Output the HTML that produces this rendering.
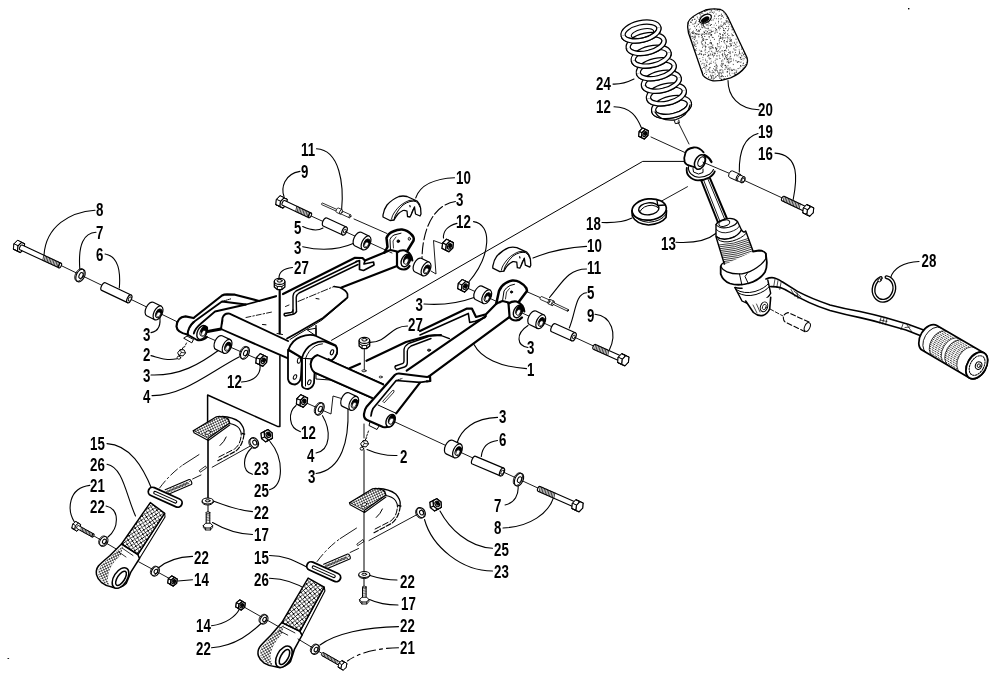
<!DOCTYPE html>
<html><head><meta charset="utf-8"><style>
html,body{margin:0;padding:0;background:#fff;}
svg{display:block}
.lb{font-family:"Liberation Sans",sans-serif;font-weight:bold;font-size:19px;fill:#000;}
</style></head><body>
<svg width="1000" height="677" viewBox="0 0 1000 677" stroke-linecap="round" stroke-linejoin="round" style="will-change:transform">
<rect width="1000" height="677" fill="#fff"/>
<text transform="translate(96,215.6) scale(0.7,1)" class="lb">8</text>
<text transform="translate(96,238.7) scale(0.7,1)" class="lb">7</text>
<text transform="translate(96,260.7) scale(0.7,1)" class="lb">6</text>
<text transform="translate(143,340.5) scale(0.7,1)" class="lb">3</text>
<text transform="translate(143,361) scale(0.7,1)" class="lb">2</text>
<text transform="translate(143,382) scale(0.7,1)" class="lb">3</text>
<text transform="translate(143,403) scale(0.7,1)" class="lb">4</text>
<text transform="translate(227,388) scale(0.7,1)" class="lb">12</text>
<text transform="translate(301,156) scale(0.7,1)" class="lb">11</text>
<text transform="translate(301,178) scale(0.7,1)" class="lb">9</text>
<text transform="translate(294,234) scale(0.7,1)" class="lb">5</text>
<text transform="translate(294,254) scale(0.7,1)" class="lb">3</text>
<text transform="translate(294,274) scale(0.7,1)" class="lb">27</text>
<text transform="translate(456,184) scale(0.7,1)" class="lb">10</text>
<text transform="translate(456,206) scale(0.7,1)" class="lb">3</text>
<text transform="translate(456,228) scale(0.7,1)" class="lb">12</text>
<text transform="translate(415.5,310.5) scale(0.7,1)" class="lb">3</text>
<text transform="translate(408,330.6) scale(0.7,1)" class="lb">27</text>
<text transform="translate(587,252) scale(0.7,1)" class="lb">10</text>
<text transform="translate(587,274) scale(0.7,1)" class="lb">11</text>
<text transform="translate(587,299) scale(0.7,1)" class="lb">5</text>
<text transform="translate(587,322) scale(0.7,1)" class="lb">9</text>
<text transform="translate(527,354) scale(0.7,1)" class="lb">3</text>
<text transform="translate(527,376) scale(0.7,1)" class="lb">1</text>
<text transform="translate(301,439) scale(0.7,1)" class="lb">12</text>
<text transform="translate(307,462) scale(0.7,1)" class="lb">4</text>
<text transform="translate(308,483) scale(0.7,1)" class="lb">3</text>
<text transform="translate(400,463) scale(0.7,1)" class="lb">2</text>
<text transform="translate(499,423.2) scale(0.7,1)" class="lb">3</text>
<text transform="translate(499,445.5) scale(0.7,1)" class="lb">6</text>
<text transform="translate(494,512) scale(0.7,1)" class="lb">7</text>
<text transform="translate(494,534) scale(0.7,1)" class="lb">8</text>
<text transform="translate(494,556) scale(0.7,1)" class="lb">25</text>
<text transform="translate(494,578) scale(0.7,1)" class="lb">23</text>
<text transform="translate(90,450) scale(0.7,1)" class="lb">15</text>
<text transform="translate(90,471) scale(0.7,1)" class="lb">26</text>
<text transform="translate(90,492) scale(0.7,1)" class="lb">21</text>
<text transform="translate(90,513) scale(0.7,1)" class="lb">22</text>
<text transform="translate(254,475) scale(0.7,1)" class="lb">23</text>
<text transform="translate(254,497) scale(0.7,1)" class="lb">25</text>
<text transform="translate(254,518.6) scale(0.7,1)" class="lb">22</text>
<text transform="translate(254,541) scale(0.7,1)" class="lb">17</text>
<text transform="translate(194,564) scale(0.7,1)" class="lb">22</text>
<text transform="translate(194,586) scale(0.7,1)" class="lb">14</text>
<text transform="translate(254,564) scale(0.7,1)" class="lb">15</text>
<text transform="translate(254,586) scale(0.7,1)" class="lb">26</text>
<text transform="translate(196,632) scale(0.7,1)" class="lb">14</text>
<text transform="translate(196,655) scale(0.7,1)" class="lb">22</text>
<text transform="translate(400,588.4) scale(0.7,1)" class="lb">22</text>
<text transform="translate(401,610.4) scale(0.7,1)" class="lb">17</text>
<text transform="translate(400,632.3) scale(0.7,1)" class="lb">22</text>
<text transform="translate(400,654.3) scale(0.7,1)" class="lb">21</text>
<text transform="translate(596,90) scale(0.7,1)" class="lb">24</text>
<text transform="translate(596,113) scale(0.7,1)" class="lb">12</text>
<text transform="translate(758,116) scale(0.7,1)" class="lb">20</text>
<text transform="translate(758,138) scale(0.7,1)" class="lb">19</text>
<text transform="translate(758,160) scale(0.7,1)" class="lb">16</text>
<text transform="translate(586,230.4) scale(0.7,1)" class="lb">18</text>
<text transform="translate(661,250) scale(0.7,1)" class="lb">13</text>
<text transform="translate(921.5,267) scale(0.7,1)" class="lb">28</text>
<path d="M95,210.2 C70,212 46,226 44,255" stroke="#000" stroke-width="1.1" fill="none" />
<path d="M96,232.3 C84,233 78,244 79.8,269" stroke="#000" stroke-width="1.1" fill="none" />
<path d="M105,254 C117,256 121,268 119.3,288" stroke="#000" stroke-width="1.1" fill="none" />
<path d="M151,332.6 C160,331 161,323 159.5,314.5" stroke="#000" stroke-width="1.1" fill="none" />
<path d="M151,355.6 C160,358 166,361 177,358.8" stroke="#000" stroke-width="1.1" fill="none" />
<path d="M151,375 C180,376 200,364 219,350" stroke="#000" stroke-width="1.1" fill="none" />
<path d="M152,395.6 C183,396 210,372 239,357" stroke="#000" stroke-width="1.1" fill="none" />
<path d="M241.5,382 C256,381 261,373 260,365" stroke="#000" stroke-width="1.1" fill="none" />
<path d="M316.5,148.8 C340,150 344,185 341.6,210" stroke="#000" stroke-width="1.1" fill="none" />
<path d="M300,171.4 C284,174 281,188 284,196.5" stroke="#000" stroke-width="1.1" fill="none" />
<path d="M302.7,226.6 C310,230 318,231 323,228" stroke="#000" stroke-width="1.1" fill="none" />
<path d="M302.7,246.7 C325,252 343,248 354.5,243" stroke="#000" stroke-width="1.1" fill="none" />
<path d="M292.5,267.5 C283,268.5 279,272 279,278" stroke="#000" stroke-width="1.1" fill="none" />
<path d="M454.5,177.7 C435,178.5 420,185 415.7,198" stroke="#000" stroke-width="1.1" fill="none" />
<path d="M457,223.4 C447,226 443,232 443.5,238" stroke="#000" stroke-width="1.1" fill="none" />
<path d="M473.5,221.6 C492,224 492,255 468,283" stroke="#000" stroke-width="1.1" fill="none" />
<path d="M424,304 C445,305.5 462,302 474,297.5" stroke="#000" stroke-width="1.1" fill="none" />
<path d="M407.5,326 C390,326 388,342 370,342.4" stroke="#000" stroke-width="1.1" fill="none" />
<path d="M586.5,246.4 C565,247.5 548,252 533,258" stroke="#000" stroke-width="1.1" fill="none" />
<path d="M586.5,269 C568,269 562,283 549.5,297.5" stroke="#000" stroke-width="1.1" fill="none" />
<path d="M586.5,292.8 C575,294 576,312 569.3,328" stroke="#000" stroke-width="1.1" fill="none" />
<path d="M595,314.2 C612,316 617,334 609.5,349.5" stroke="#000" stroke-width="1.1" fill="none" />
<path d="M528,347.5 C517,346 515,334 528,325.5" stroke="#000" stroke-width="1.1" fill="none" />
<path d="M526.5,368.6 C500,367 481,358 474,344.5" stroke="#000" stroke-width="1.1" fill="none" />
<path d="M602,222.5 C615,223 625,221.5 632,218" stroke="#000" stroke-width="1.1" fill="none" />
<path d="M676,242.3 C695,243.5 708,240 716.5,233" stroke="#000" stroke-width="1.1" fill="none" />
<path d="M613,84.1 C622,84.5 628,82 634,79" stroke="#000" stroke-width="1.1" fill="none" />
<path d="M614,106.7 C631,107 637,117 641.5,128" stroke="#000" stroke-width="1.1" fill="none" />
<path d="M759,109.7 C738,109 728,96 728,80.5" stroke="#000" stroke-width="1.1" fill="none" />
<path d="M758,133.5 C742,138 739,155 739.3,172" stroke="#000" stroke-width="1.1" fill="none" />
<path d="M775,153.1 C800,155 797,180 793.2,199.5" stroke="#000" stroke-width="1.1" fill="none" />
<path d="M919,261.5 C903,262 893,269 890.5,278" stroke="#000" stroke-width="1.1" fill="none" />
<path d="M300.5,431.7 C288,428 288,412 296,405.5" stroke="#000" stroke-width="1.1" fill="none" />
<path d="M316,453 C331,450 331,430 322.5,415.7" stroke="#000" stroke-width="1.1" fill="none" />
<path d="M316,473.5 C342,470 349,440 348,409" stroke="#000" stroke-width="1.1" fill="none" />
<path d="M397,455.5 C385,456 375,453 367,449.5" stroke="#000" stroke-width="1.1" fill="none" />
<path d="M497.5,417.4 C474,418 461,430 457,443" stroke="#000" stroke-width="1.1" fill="none" />
<path d="M497.5,440.5 C486,442 482,449 481.3,456.5" stroke="#000" stroke-width="1.1" fill="none" />
<path d="M505,505 C515,503 519,494 518,485.5" stroke="#000" stroke-width="1.1" fill="none" />
<path d="M503,528 C530,527 549,513 553.7,497" stroke="#000" stroke-width="1.1" fill="none" />
<path d="M492.5,548.3 C468,547 449,528 440,511" stroke="#000" stroke-width="1.1" fill="none" />
<path d="M492.5,571 C462,571 432,547 424.5,519.5" stroke="#000" stroke-width="1.1" fill="none" />
<path d="M397,580 C385,580 378,578 370,575.5" stroke="#000" stroke-width="1.1" fill="none" />
<path d="M398,605 C385,605 377,603 369.5,599.5" stroke="#000" stroke-width="1.1" fill="none" />
<path d="M398.5,626.6 C365,627 335,634 320,645" stroke="#000" stroke-width="1.1" fill="none" />
<path d="M211.5,625.7 C226,624 236,616 239.5,609" stroke="#000" stroke-width="1.1" fill="none" />
<path d="M211.5,647.7 C236,646 252,632 261,623.5" stroke="#000" stroke-width="1.1" fill="none" />
<path d="M192.5,556.4 C177,557 165,562 157.5,568.5" stroke="#000" stroke-width="1.1" fill="none" />
<path d="M192.5,579.7 L178,581" stroke="#000" stroke-width="1.1" fill="none" />
<path d="M269.5,555.5 C288,555.5 298,563 309,568" stroke="#000" stroke-width="1.1" fill="none" />
<path d="M269.5,578.3 C288,579 300,585 309,591" stroke="#000" stroke-width="1.1" fill="none" />
<path d="M252.5,511.6 C236,510 224,505 213.5,501" stroke="#000" stroke-width="1.1" fill="none" />
<path d="M252.5,534.5 C236,534 222,528 212.5,522.5" stroke="#000" stroke-width="1.1" fill="none" />
<path d="M252.5,474.3 C241,471 243,456 251.5,448" stroke="#000" stroke-width="1.1" fill="none" />
<path d="M269.5,489.7 C284,487 284,458 270,441.5" stroke="#000" stroke-width="1.1" fill="none" />
<path d="M107,443.6 C130,445 143,467 152,489.5" stroke="#000" stroke-width="1.1" fill="none" />
<path d="M107,464.2 C123,467 126,495 135.5,516" stroke="#000" stroke-width="1.1" fill="none" />
<path d="M89.8,485.4 C68,488 67,510 74.4,522" stroke="#000" stroke-width="1.1" fill="none" />
<path d="M106,506 C120,509 119,528 108,537" stroke="#000" stroke-width="1.1" fill="none" />
<path d="M455.5,201.5 C432,205 422,232 422,260" stroke="#000" stroke-width="1.1" fill="none" stroke-dasharray="11 3"/>
<path d="M398.5,647.7 C378,648 358,653 347.5,661" stroke="#000" stroke-width="1.1" fill="none" stroke-dasharray="12 4 3 4"/>
<line x1="60" y1="265" x2="190" y2="328" stroke="#000" stroke-width="0.9"/>
<path d="M16.50,250.59 L20.05,246.99 L20.51,241.95 L17.41,240.52 L13.86,244.12 L13.41,249.16 Z" stroke="#000" stroke-width="1.1" fill="#fff" />
<path d="M16.50,250.59 L20.05,246.99 L24.14,248.88 L20.59,252.48 Z" stroke="#000" stroke-width="0.8800000000000001" fill="#fff" />
<path d="M20.05,246.99 L20.51,241.95 L24.59,243.84 L24.14,248.88 Z" stroke="#000" stroke-width="0.8800000000000001" fill="#fff" />
<path d="M20.51,241.95 L17.41,240.52 L21.50,242.41 L24.59,243.84 Z" stroke="#000" stroke-width="0.8800000000000001" fill="#fff" />
<path d="M17.41,240.52 L13.86,244.12 L17.95,246.01 L21.50,242.41 Z" stroke="#000" stroke-width="0.8800000000000001" fill="#fff" />
<path d="M13.86,244.12 L13.41,249.16 L17.49,251.05 L17.95,246.01 Z" stroke="#000" stroke-width="0.8800000000000001" fill="#fff" />
<path d="M13.41,249.16 L16.50,250.59 L20.59,252.48 L17.49,251.05 Z" stroke="#000" stroke-width="0.8800000000000001" fill="#fff" />
<path d="M20.59,252.48 L24.14,248.88 L24.59,243.84 L21.50,242.41 L17.95,246.01 L17.49,251.05 Z" stroke="#000" stroke-width="1.1" fill="#fff" />
<path d="M58.91,267.86 L19.95,249.81 A1.30,2.60 24.9 0 1 22.13,245.09 L61.09,263.14" stroke="#000" stroke-width="1.1" fill="#fff" />
<ellipse cx="60" cy="265.5" rx="1.3" ry="2.6" transform="rotate(24.9 60 265.5)" stroke="#000" stroke-width="1.1" fill="#fff"/>
<line x1="58.73" y1="267.77" x2="59.82" y2="262.55" stroke="#000" stroke-width="0.75"/>
<line x1="57.27" y1="267.1" x2="58.37" y2="261.88" stroke="#000" stroke-width="0.75"/>
<line x1="55.82" y1="266.43" x2="56.92" y2="261.21" stroke="#000" stroke-width="0.75"/>
<line x1="54.37" y1="265.76" x2="55.47" y2="260.53" stroke="#000" stroke-width="0.75"/>
<line x1="52.92" y1="265.08" x2="54.02" y2="259.86" stroke="#000" stroke-width="0.75"/>
<line x1="51.47" y1="264.41" x2="52.56" y2="259.19" stroke="#000" stroke-width="0.75"/>
<line x1="50.02" y1="263.74" x2="51.11" y2="258.52" stroke="#000" stroke-width="0.75"/>
<line x1="48.56" y1="263.07" x2="49.66" y2="257.84" stroke="#000" stroke-width="0.75"/>
<line x1="47.11" y1="262.39" x2="48.21" y2="257.17" stroke="#000" stroke-width="0.75"/>
<line x1="45.66" y1="261.72" x2="46.76" y2="256.5" stroke="#000" stroke-width="0.75"/>
<line x1="44.21" y1="261.05" x2="45.31" y2="255.82" stroke="#000" stroke-width="0.75"/>
<line x1="42.76" y1="260.37" x2="43.85" y2="255.15" stroke="#000" stroke-width="0.75"/>
<ellipse cx="80.5" cy="275.5" rx="4.08" ry="6.8" transform="rotate(26 80.5 275.5)" stroke="#000" stroke-width="1.1" fill="#fff"/>
<ellipse cx="81.0" cy="275.5" rx="1.84" ry="3.06" transform="rotate(26 81.0 275.5)" stroke="#000" stroke-width="0.9900000000000001" fill="#fff"/>
<ellipse cx="79.42" cy="274.97" rx="4.08" ry="6.8" transform="rotate(26 79.42 274.97)" stroke="#000" stroke-width="0.77" fill="none"/>
<path d="M127.50,302.60 L101.70,290.40 A2.10,4.20 25.3 0 1 105.30,282.80 L131.10,295.00" stroke="#000" stroke-width="1.2" fill="#fff" />
<ellipse cx="129.3" cy="298.8" rx="2.1" ry="4.2" transform="rotate(25.3 129.3 298.8)" stroke="#000" stroke-width="1.2" fill="#fff"/>
<ellipse cx="129.8" cy="299" rx="1.32" ry="2.2" transform="rotate(26 129.8 299)" stroke="#000" stroke-width="0.9" fill="#fff"/>
<path d="M154.76,319.71 L146.67,315.77 A4.12,7.50 26.0 0 1 153.24,302.29 L161.33,306.23" stroke="#000" stroke-width="1.2" fill="#fff" />
<ellipse cx="158.04" cy="312.97" rx="4.12" ry="7.5" transform="rotate(26.0 158.04 312.97)" stroke="#000" stroke-width="1.2" fill="#fff"/>
<ellipse cx="158.76" cy="313.32" rx="2.79" ry="4.65" transform="rotate(26 158.76 313.32)" stroke="#000" stroke-width="0.9" fill="none"/>
<ellipse cx="159.12" cy="312.5" rx="1.99" ry="2.85" transform="rotate(26 159.12 312.5)" stroke="#000" stroke-width="1.6" fill="#000"/>
<ellipse cx="158.58" cy="314.44" rx="1.79" ry="2.5500000000000003" transform="rotate(26 158.58 314.44)" stroke="#000" stroke-width="0.5" fill="#fff"/>
<line x1="205" y1="336" x2="262" y2="361" stroke="#000" stroke-width="0.9"/>
<path d="M223.91,353.20 L215.75,349.40 A4.12,7.50 25.0 0 1 222.09,335.80 L230.25,339.60" stroke="#000" stroke-width="1.2" fill="#fff" />
<ellipse cx="227.08" cy="346.4" rx="4.12" ry="7.5" transform="rotate(25.0 227.08 346.4)" stroke="#000" stroke-width="1.2" fill="#fff"/>
<ellipse cx="227.8" cy="346.74" rx="2.79" ry="4.65" transform="rotate(25 227.8 346.74)" stroke="#000" stroke-width="0.9" fill="none"/>
<ellipse cx="228.17" cy="345.91" rx="1.99" ry="2.85" transform="rotate(25 228.17 345.91)" stroke="#000" stroke-width="1.6" fill="#000"/>
<ellipse cx="227.62" cy="347.86" rx="1.79" ry="2.5500000000000003" transform="rotate(25 227.62 347.86)" stroke="#000" stroke-width="0.5" fill="#fff"/>
<ellipse cx="245" cy="353" rx="3.9" ry="6.5" transform="rotate(25 245 353)" stroke="#000" stroke-width="1.1" fill="#fff"/>
<ellipse cx="245.5" cy="353" rx="1.76" ry="2.9250000000000003" transform="rotate(25 245.5 353)" stroke="#000" stroke-width="0.9900000000000001" fill="#fff"/>
<ellipse cx="243.91" cy="352.49" rx="3.9" ry="6.5" transform="rotate(25 243.91 352.49)" stroke="#000" stroke-width="0.77" fill="none"/>
<path d="M259.19,364.47 L262.95,360.67 L263.44,355.36 L260.18,353.84 L256.43,357.64 L255.94,362.95 Z" stroke="#000" stroke-width="1.3" fill="#fff" />
<path d="M259.19,364.47 L262.95,360.67 L266.57,362.36 L262.82,366.16 Z" stroke="#000" stroke-width="1.04" fill="#fff" />
<path d="M262.95,360.67 L263.44,355.36 L267.06,357.05 L266.57,362.36 Z" stroke="#000" stroke-width="1.04" fill="#fff" />
<path d="M263.44,355.36 L260.18,353.84 L263.81,355.53 L267.06,357.05 Z" stroke="#000" stroke-width="1.04" fill="#fff" />
<path d="M260.18,353.84 L256.43,357.64 L260.05,359.33 L263.81,355.53 Z" stroke="#000" stroke-width="1.04" fill="#fff" />
<path d="M256.43,357.64 L255.94,362.95 L259.56,364.64 L260.05,359.33 Z" stroke="#000" stroke-width="1.04" fill="#fff" />
<path d="M255.94,362.95 L259.19,364.47 L262.82,366.16 L259.56,364.64 Z" stroke="#000" stroke-width="1.04" fill="#fff" />
<path d="M262.82,366.16 L266.57,362.36 L267.06,357.05 L263.81,355.53 L260.05,359.33 L259.56,364.64 Z" stroke="#000" stroke-width="1.3" fill="#fff" />
<ellipse cx="263.31" cy="360.85" rx="1.8" ry="2.9" transform="rotate(25 263.31 360.85)" stroke="#000" stroke-width="1.1700000000000002" fill="#fff"/>
<ellipse cx="263.71" cy="360.35" rx="1.01" ry="1.624" transform="rotate(25 263.71 360.35)" stroke="#000" stroke-width="1.2" fill="#000"/>
<line x1="310" y1="215.5" x2="392" y2="253" stroke="#000" stroke-width="0.9"/>
<path d="M278.99,206.09 L282.55,202.49 L283.02,197.45 L279.93,196.01 L276.37,199.61 L275.90,204.64 Z" stroke="#000" stroke-width="1.1" fill="#fff" />
<path d="M278.99,206.09 L282.55,202.49 L286.63,204.39 L283.07,207.99 Z" stroke="#000" stroke-width="0.8800000000000001" fill="#fff" />
<path d="M282.55,202.49 L283.02,197.45 L287.10,199.36 L286.63,204.39 Z" stroke="#000" stroke-width="0.8800000000000001" fill="#fff" />
<path d="M283.02,197.45 L279.93,196.01 L284.01,197.91 L287.10,199.36 Z" stroke="#000" stroke-width="0.8800000000000001" fill="#fff" />
<path d="M279.93,196.01 L276.37,199.61 L280.45,201.51 L284.01,197.91 Z" stroke="#000" stroke-width="0.8800000000000001" fill="#fff" />
<path d="M276.37,199.61 L275.90,204.64 L279.98,206.55 L280.45,201.51 Z" stroke="#000" stroke-width="0.8800000000000001" fill="#fff" />
<path d="M275.90,204.64 L278.99,206.09 L283.07,207.99 L279.98,206.55 Z" stroke="#000" stroke-width="0.8800000000000001" fill="#fff" />
<path d="M283.07,207.99 L286.63,204.39 L287.10,199.36 L284.01,197.91 L280.45,201.51 L279.98,206.55 Z" stroke="#000" stroke-width="1.1" fill="#fff" />
<path d="M308.90,217.66 L282.44,205.31 A1.30,2.60 25.0 0 1 284.64,200.60 L311.10,212.94" stroke="#000" stroke-width="1.1" fill="#fff" />
<ellipse cx="310" cy="215.3" rx="1.3" ry="2.6" transform="rotate(25.0 310 215.3)" stroke="#000" stroke-width="1.1" fill="#fff"/>
<line x1="308.72" y1="217.57" x2="309.83" y2="212.35" stroke="#000" stroke-width="0.75"/>
<line x1="307.27" y1="216.89" x2="308.38" y2="211.68" stroke="#000" stroke-width="0.75"/>
<line x1="305.82" y1="216.22" x2="306.93" y2="211.0" stroke="#000" stroke-width="0.75"/>
<line x1="304.37" y1="215.54" x2="305.48" y2="210.32" stroke="#000" stroke-width="0.75"/>
<line x1="302.92" y1="214.87" x2="304.03" y2="209.65" stroke="#000" stroke-width="0.75"/>
<line x1="301.47" y1="214.19" x2="302.58" y2="208.97" stroke="#000" stroke-width="0.75"/>
<line x1="300.02" y1="213.51" x2="301.13" y2="208.29" stroke="#000" stroke-width="0.75"/>
<line x1="298.57" y1="212.84" x2="299.68" y2="207.62" stroke="#000" stroke-width="0.75"/>
<line x1="297.12" y1="212.16" x2="298.23" y2="206.94" stroke="#000" stroke-width="0.75"/>
<line x1="295.67" y1="211.48" x2="296.78" y2="206.26" stroke="#000" stroke-width="0.75"/>
<path d="M342.66,235.00 L323.16,226.00 A2.20,4.40 24.8 0 1 326.84,218.00 L346.34,227.00" stroke="#000" stroke-width="1.2" fill="#fff" />
<ellipse cx="344.5" cy="231" rx="2.2" ry="4.4" transform="rotate(24.8 344.5 231)" stroke="#000" stroke-width="1.2" fill="#fff"/>
<ellipse cx="344.8" cy="231.2" rx="1.2" ry="2" transform="rotate(26 344.8 231.2)" stroke="#000" stroke-width="0.8" fill="#fff"/>
<path d="M362.76,249.71 L354.67,245.77 A4.12,7.50 26.0 0 1 361.24,232.29 L369.33,236.23" stroke="#000" stroke-width="1.2" fill="#fff" />
<ellipse cx="366.04" cy="242.97" rx="4.12" ry="7.5" transform="rotate(26.0 366.04 242.97)" stroke="#000" stroke-width="1.2" fill="#fff"/>
<ellipse cx="366.76" cy="243.32" rx="2.79" ry="4.65" transform="rotate(26 366.76 243.32)" stroke="#000" stroke-width="0.9" fill="none"/>
<ellipse cx="367.12" cy="242.5" rx="1.99" ry="2.85" transform="rotate(26 367.12 242.5)" stroke="#000" stroke-width="1.6" fill="#000"/>
<ellipse cx="366.58" cy="244.44" rx="1.79" ry="2.5500000000000003" transform="rotate(26 366.58 244.44)" stroke="#000" stroke-width="0.5" fill="#fff"/>
<line x1="354" y1="219" x2="387" y2="233.5" stroke="#000" stroke-width="0.9"/>
<path d="M339.63,212.62 L321.63,204.62 A0.45,0.90 24.0 0 1 322.37,202.98 L340.37,210.98" stroke="#000" stroke-width="0.8" fill="#fff" />
<ellipse cx="340" cy="211.8" rx="0.45" ry="0.9" transform="rotate(24.0 340 211.8)" stroke="#000" stroke-width="0.8" fill="#fff"/>
<path d="M349.34,217.76 L339.84,213.46 A0.80,1.60 24.4 0 1 341.16,210.54 L350.66,214.84" stroke="#000" stroke-width="0.8" fill="#fff" />
<ellipse cx="350" cy="216.3" rx="0.8" ry="1.6" transform="rotate(24.4 350 216.3)" stroke="#000" stroke-width="0.8" fill="#fff"/>
<path d="M340.00,213.98 L336.50,212.38 A1.20,2.40 24.6 0 1 338.50,208.02 L342.00,209.62" stroke="#000" stroke-width="0.8" fill="#fff" />
<ellipse cx="341" cy="211.8" rx="1.2" ry="2.4" transform="rotate(24.6 341 211.8)" stroke="#000" stroke-width="0.8" fill="#fff"/>
<line x1="463" y1="286" x2="500" y2="303" stroke="#000" stroke-width="0.9"/>
<line x1="520" y1="312" x2="600" y2="349" stroke="#000" stroke-width="0.9"/>
<path d="M461.02,290.23 L464.83,286.50 L465.42,281.20 L462.19,279.62 L458.37,283.35 L457.78,288.65 Z" stroke="#000" stroke-width="1.3" fill="#fff" />
<path d="M461.02,290.23 L464.83,286.50 L468.43,288.25 L464.61,291.98 Z" stroke="#000" stroke-width="1.04" fill="#fff" />
<path d="M464.83,286.50 L465.42,281.20 L469.02,282.95 L468.43,288.25 Z" stroke="#000" stroke-width="1.04" fill="#fff" />
<path d="M465.42,281.20 L462.19,279.62 L465.78,281.37 L469.02,282.95 Z" stroke="#000" stroke-width="1.04" fill="#fff" />
<path d="M462.19,279.62 L458.37,283.35 L461.97,285.10 L465.78,281.37 Z" stroke="#000" stroke-width="1.04" fill="#fff" />
<path d="M458.37,283.35 L457.78,288.65 L461.38,290.40 L461.97,285.10 Z" stroke="#000" stroke-width="1.04" fill="#fff" />
<path d="M457.78,288.65 L461.02,290.23 L464.61,291.98 L461.38,290.40 Z" stroke="#000" stroke-width="1.04" fill="#fff" />
<path d="M464.61,291.98 L468.43,288.25 L469.02,282.95 L465.78,281.37 L461.97,285.10 L461.38,290.40 Z" stroke="#000" stroke-width="1.3" fill="#fff" />
<ellipse cx="465.2" cy="286.68" rx="1.8" ry="2.9" transform="rotate(26 465.2 286.68)" stroke="#000" stroke-width="1.1700000000000002" fill="#fff"/>
<ellipse cx="465.6" cy="286.18" rx="1.01" ry="1.624" transform="rotate(26 465.6 286.18)" stroke="#000" stroke-width="1.2" fill="#000"/>
<path d="M483.46,303.51 L475.37,299.57 A4.12,7.50 26.0 0 1 481.94,286.09 L490.03,290.03" stroke="#000" stroke-width="1.2" fill="#fff" />
<ellipse cx="486.74" cy="296.77" rx="4.12" ry="7.5" transform="rotate(26.0 486.74 296.77)" stroke="#000" stroke-width="1.2" fill="#fff"/>
<ellipse cx="487.46" cy="297.12" rx="2.79" ry="4.65" transform="rotate(26 487.46 297.12)" stroke="#000" stroke-width="0.9" fill="none"/>
<ellipse cx="487.82" cy="296.3" rx="1.99" ry="2.85" transform="rotate(26 487.82 296.3)" stroke="#000" stroke-width="1.6" fill="#000"/>
<ellipse cx="487.28" cy="298.24" rx="1.79" ry="2.5500000000000003" transform="rotate(26 487.28 298.24)" stroke="#000" stroke-width="0.5" fill="#fff"/>
<path d="M537.46,328.41 L529.37,324.47 A4.12,7.50 26.0 0 1 535.94,310.99 L544.03,314.93" stroke="#000" stroke-width="1.2" fill="#fff" />
<ellipse cx="540.74" cy="321.67" rx="4.12" ry="7.5" transform="rotate(26.0 540.74 321.67)" stroke="#000" stroke-width="1.2" fill="#fff"/>
<ellipse cx="541.46" cy="322.02" rx="2.79" ry="4.65" transform="rotate(26 541.46 322.02)" stroke="#000" stroke-width="0.9" fill="none"/>
<ellipse cx="541.82" cy="321.2" rx="1.99" ry="2.85" transform="rotate(26 541.82 321.2)" stroke="#000" stroke-width="1.6" fill="#000"/>
<ellipse cx="541.28" cy="323.14" rx="1.79" ry="2.5500000000000003" transform="rotate(26 541.28 323.14)" stroke="#000" stroke-width="0.5" fill="#fff"/>
<path d="M571.69,340.81 L551.69,331.81 A2.20,4.40 24.2 0 1 555.31,323.79 L575.31,332.79" stroke="#000" stroke-width="1.2" fill="#fff" />
<ellipse cx="573.5" cy="336.8" rx="2.2" ry="4.4" transform="rotate(24.2 573.5 336.8)" stroke="#000" stroke-width="1.2" fill="#fff"/>
<ellipse cx="573.8" cy="337" rx="1.2" ry="2" transform="rotate(26 573.8 337)" stroke="#000" stroke-width="0.8" fill="#fff"/>
<path d="M620.18,361.25 L593.33,349.17 A1.30,2.60 24.2 0 1 595.47,344.43 L622.31,356.51" stroke="#000" stroke-width="1.1" fill="#fff" />
<line x1="595.65" y1="344.51" x2="594.61" y2="349.75" stroke="#000" stroke-width="0.75"/>
<line x1="597.11" y1="345.17" x2="596.07" y2="350.4" stroke="#000" stroke-width="0.75"/>
<line x1="598.57" y1="345.82" x2="597.53" y2="351.06" stroke="#000" stroke-width="0.75"/>
<line x1="600.03" y1="346.48" x2="598.99" y2="351.71" stroke="#000" stroke-width="0.75"/>
<line x1="601.49" y1="347.14" x2="600.45" y2="352.37" stroke="#000" stroke-width="0.75"/>
<line x1="602.94" y1="347.79" x2="601.91" y2="353.03" stroke="#000" stroke-width="0.75"/>
<line x1="604.4" y1="348.45" x2="603.37" y2="353.68" stroke="#000" stroke-width="0.75"/>
<line x1="605.86" y1="349.11" x2="604.82" y2="354.34" stroke="#000" stroke-width="0.75"/>
<line x1="607.32" y1="349.76" x2="606.28" y2="355.0" stroke="#000" stroke-width="0.75"/>
<line x1="608.78" y1="350.42" x2="607.74" y2="355.65" stroke="#000" stroke-width="0.75"/>
<path d="M621.65,353.83 L618.14,357.48 L617.74,362.52 L620.85,363.92 L624.36,360.28 L624.76,355.23 Z" stroke="#000" stroke-width="1.1" fill="#fff" />
<path d="M621.65,353.83 L618.14,357.48 L622.24,359.32 L625.75,355.68 Z" stroke="#000" stroke-width="0.8800000000000001" fill="#fff" />
<path d="M618.14,357.48 L617.74,362.52 L621.84,364.37 L622.24,359.32 Z" stroke="#000" stroke-width="0.8800000000000001" fill="#fff" />
<path d="M617.74,362.52 L620.85,363.92 L624.95,365.77 L621.84,364.37 Z" stroke="#000" stroke-width="0.8800000000000001" fill="#fff" />
<path d="M620.85,363.92 L624.36,360.28 L628.46,362.12 L624.95,365.77 Z" stroke="#000" stroke-width="0.8800000000000001" fill="#fff" />
<path d="M624.36,360.28 L624.76,355.23 L628.86,357.08 L628.46,362.12 Z" stroke="#000" stroke-width="0.8800000000000001" fill="#fff" />
<path d="M624.76,355.23 L621.65,353.83 L625.75,355.68 L628.86,357.08 Z" stroke="#000" stroke-width="0.8800000000000001" fill="#fff" />
<path d="M625.75,355.68 L622.24,359.32 L621.84,364.37 L624.95,365.77 L628.46,362.12 L628.86,357.08 Z" stroke="#000" stroke-width="1.1" fill="#fff" />
<line x1="523" y1="290" x2="548" y2="301" stroke="#000" stroke-width="0.9"/>
<path d="M552.02,305.49 L548.02,303.69 A1.20,2.40 24.2 0 1 549.98,299.31 L553.98,301.11" stroke="#000" stroke-width="0.8" fill="#fff" />
<ellipse cx="553" cy="303.3" rx="1.2" ry="2.4" transform="rotate(24.2 553 303.3)" stroke="#000" stroke-width="0.8" fill="#fff"/>
<path d="M548.36,302.97 L540.36,299.47 A0.80,1.60 23.6 0 1 541.64,296.53 L549.64,300.03" stroke="#000" stroke-width="0.8" fill="#fff" />
<ellipse cx="549" cy="301.5" rx="0.8" ry="1.6" transform="rotate(23.6 549 301.5)" stroke="#000" stroke-width="0.8" fill="#fff"/>
<path d="M567.61,311.21 L552.61,304.11 A0.45,0.90 25.3 0 1 553.39,302.49 L568.39,309.59" stroke="#000" stroke-width="0.8" fill="#fff" />
<ellipse cx="568" cy="310.4" rx="0.45" ry="0.9" transform="rotate(25.3 568 310.4)" stroke="#000" stroke-width="0.8" fill="#fff"/>
<line x1="302" y1="401" x2="320" y2="409" stroke="#000" stroke-width="0.9"/>
<path d="M323,410.5 L331,414 L333,396 L343,399" stroke="#000" stroke-width="0.9" fill="none" />
<path d="M299.69,405.47 L303.45,401.67 L303.94,396.36 L300.68,394.84 L296.93,398.64 L296.44,403.95 Z" stroke="#000" stroke-width="1.3" fill="#fff" />
<path d="M299.69,405.47 L303.45,401.67 L307.07,403.36 L303.32,407.16 Z" stroke="#000" stroke-width="1.04" fill="#fff" />
<path d="M303.45,401.67 L303.94,396.36 L307.56,398.05 L307.07,403.36 Z" stroke="#000" stroke-width="1.04" fill="#fff" />
<path d="M303.94,396.36 L300.68,394.84 L304.31,396.53 L307.56,398.05 Z" stroke="#000" stroke-width="1.04" fill="#fff" />
<path d="M300.68,394.84 L296.93,398.64 L300.55,400.33 L304.31,396.53 Z" stroke="#000" stroke-width="1.04" fill="#fff" />
<path d="M296.93,398.64 L296.44,403.95 L300.06,405.64 L300.55,400.33 Z" stroke="#000" stroke-width="1.04" fill="#fff" />
<path d="M296.44,403.95 L299.69,405.47 L303.32,407.16 L300.06,405.64 Z" stroke="#000" stroke-width="1.04" fill="#fff" />
<path d="M303.32,407.16 L307.07,403.36 L307.56,398.05 L304.31,396.53 L300.55,400.33 L300.06,405.64 Z" stroke="#000" stroke-width="1.3" fill="#fff" />
<ellipse cx="303.81" cy="401.85" rx="1.8" ry="2.9" transform="rotate(25 303.81 401.85)" stroke="#000" stroke-width="1.1700000000000002" fill="#fff"/>
<ellipse cx="304.21" cy="401.35" rx="1.01" ry="1.624" transform="rotate(25 304.21 401.35)" stroke="#000" stroke-width="1.2" fill="#000"/>
<ellipse cx="319.8" cy="409" rx="3.9" ry="6.5" transform="rotate(25 319.8 409)" stroke="#000" stroke-width="1.1" fill="#fff"/>
<ellipse cx="320.3" cy="409" rx="1.76" ry="2.9250000000000003" transform="rotate(25 320.3 409)" stroke="#000" stroke-width="0.9900000000000001" fill="#fff"/>
<ellipse cx="318.71" cy="408.49" rx="3.9" ry="6.5" transform="rotate(25 318.71 408.49)" stroke="#000" stroke-width="0.77" fill="none"/>
<path d="M350.61,410.20 L342.45,406.40 A4.12,7.50 25.0 0 1 348.79,392.80 L356.95,396.60" stroke="#000" stroke-width="1.2" fill="#fff" />
<ellipse cx="353.78" cy="403.4" rx="4.12" ry="7.5" transform="rotate(25.0 353.78 403.4)" stroke="#000" stroke-width="1.2" fill="#fff"/>
<ellipse cx="354.5" cy="403.74" rx="2.79" ry="4.65" transform="rotate(25 354.5 403.74)" stroke="#000" stroke-width="0.9" fill="none"/>
<ellipse cx="354.87" cy="402.91" rx="1.99" ry="2.85" transform="rotate(25 354.87 402.91)" stroke="#000" stroke-width="1.6" fill="#000"/>
<ellipse cx="354.32" cy="404.86" rx="1.79" ry="2.5500000000000003" transform="rotate(25 354.32 404.86)" stroke="#000" stroke-width="0.5" fill="#fff"/>
<line x1="395" y1="422" x2="540" y2="489" stroke="#000" stroke-width="0.9"/>
<path d="M454.31,457.70 L446.15,453.90 A4.12,7.50 25.0 0 1 452.49,440.30 L460.65,444.10" stroke="#000" stroke-width="1.2" fill="#fff" />
<ellipse cx="457.48" cy="450.9" rx="4.12" ry="7.5" transform="rotate(25.0 457.48 450.9)" stroke="#000" stroke-width="1.2" fill="#fff"/>
<ellipse cx="458.2" cy="451.24" rx="2.79" ry="4.65" transform="rotate(25 458.2 451.24)" stroke="#000" stroke-width="0.9" fill="none"/>
<ellipse cx="458.57" cy="450.41" rx="1.99" ry="2.85" transform="rotate(25 458.57 450.41)" stroke="#000" stroke-width="1.6" fill="#000"/>
<ellipse cx="458.02" cy="452.36" rx="1.79" ry="2.5500000000000003" transform="rotate(25 458.02 452.36)" stroke="#000" stroke-width="0.5" fill="#fff"/>
<path d="M500.37,475.87 L472.37,464.07 A2.10,4.20 22.9 0 1 475.63,456.33 L503.63,468.13" stroke="#000" stroke-width="1.2" fill="#fff" />
<ellipse cx="502" cy="472" rx="2.1" ry="4.2" transform="rotate(22.9 502 472)" stroke="#000" stroke-width="1.2" fill="#fff"/>
<ellipse cx="502.3" cy="472.2" rx="1.32" ry="2.2" transform="rotate(26 502.3 472.2)" stroke="#000" stroke-width="0.9" fill="#fff"/>
<ellipse cx="519" cy="479.6" rx="4.08" ry="6.8" transform="rotate(25 519 479.6)" stroke="#000" stroke-width="1.1" fill="#fff"/>
<ellipse cx="519.5" cy="479.6" rx="1.84" ry="3.06" transform="rotate(25 519.5 479.6)" stroke="#000" stroke-width="0.9900000000000001" fill="#fff"/>
<ellipse cx="517.91" cy="479.09" rx="4.08" ry="6.8" transform="rotate(25 517.91 479.09)" stroke="#000" stroke-width="0.77" fill="none"/>
<path d="M574.39,507.27 L537.95,491.18 A1.30,2.60 23.8 0 1 540.05,486.42 L576.49,502.51" stroke="#000" stroke-width="1.1" fill="#fff" />
<line x1="540.23" y1="486.5" x2="539.23" y2="491.74" stroke="#000" stroke-width="0.75"/>
<line x1="541.7" y1="487.15" x2="540.69" y2="492.39" stroke="#000" stroke-width="0.75"/>
<line x1="543.16" y1="487.79" x2="542.16" y2="493.04" stroke="#000" stroke-width="0.75"/>
<line x1="544.62" y1="488.44" x2="543.62" y2="493.68" stroke="#000" stroke-width="0.75"/>
<line x1="546.09" y1="489.09" x2="545.09" y2="494.33" stroke="#000" stroke-width="0.75"/>
<line x1="547.55" y1="489.73" x2="546.55" y2="494.98" stroke="#000" stroke-width="0.75"/>
<line x1="549.02" y1="490.38" x2="548.01" y2="495.62" stroke="#000" stroke-width="0.75"/>
<line x1="550.48" y1="491.03" x2="549.48" y2="496.27" stroke="#000" stroke-width="0.75"/>
<line x1="551.94" y1="491.67" x2="550.94" y2="496.91" stroke="#000" stroke-width="0.75"/>
<line x1="553.41" y1="492.32" x2="552.4" y2="497.56" stroke="#000" stroke-width="0.75"/>
<line x1="554.87" y1="492.97" x2="553.87" y2="498.21" stroke="#000" stroke-width="0.75"/>
<path d="M575.81,499.85 L572.32,503.51 L571.96,508.56 L575.08,509.94 L578.56,506.27 L578.93,501.22 Z" stroke="#000" stroke-width="1.1" fill="#fff" />
<path d="M575.81,499.85 L572.32,503.51 L576.44,505.33 L579.92,501.66 Z" stroke="#000" stroke-width="0.8800000000000001" fill="#fff" />
<path d="M572.32,503.51 L571.96,508.56 L576.07,510.38 L576.44,505.33 Z" stroke="#000" stroke-width="0.8800000000000001" fill="#fff" />
<path d="M571.96,508.56 L575.08,509.94 L579.19,511.75 L576.07,510.38 Z" stroke="#000" stroke-width="0.8800000000000001" fill="#fff" />
<path d="M575.08,509.94 L578.56,506.27 L582.68,508.09 L579.19,511.75 Z" stroke="#000" stroke-width="0.8800000000000001" fill="#fff" />
<path d="M578.56,506.27 L578.93,501.22 L583.04,503.04 L582.68,508.09 Z" stroke="#000" stroke-width="0.8800000000000001" fill="#fff" />
<path d="M578.93,501.22 L575.81,499.85 L579.92,501.66 L583.04,503.04 Z" stroke="#000" stroke-width="0.8800000000000001" fill="#fff" />
<path d="M579.92,501.66 L576.44,505.33 L576.07,510.38 L579.19,511.75 L582.68,508.09 L583.04,503.04 Z" stroke="#000" stroke-width="1.1" fill="#fff" />
<path d="M422.76,275.71 L414.67,271.77 A4.12,7.50 26.0 0 1 421.24,258.29 L429.33,262.23" stroke="#000" stroke-width="1.2" fill="#fff" />
<ellipse cx="426.04" cy="268.97" rx="4.12" ry="7.5" transform="rotate(26.0 426.04 268.97)" stroke="#000" stroke-width="1.2" fill="#fff"/>
<ellipse cx="426.76" cy="269.32" rx="2.79" ry="4.65" transform="rotate(26 426.76 269.32)" stroke="#000" stroke-width="0.9" fill="none"/>
<ellipse cx="427.12" cy="268.5" rx="1.99" ry="2.85" transform="rotate(26 427.12 268.5)" stroke="#000" stroke-width="1.6" fill="#000"/>
<ellipse cx="426.58" cy="270.44" rx="1.79" ry="2.5500000000000003" transform="rotate(26 426.58 270.44)" stroke="#000" stroke-width="0.5" fill="#fff"/>
<path d="M431,271 L436,274 L433.5,240.5 L443,244" stroke="#000" stroke-width="0.9" fill="none" />
<path d="M445.32,249.93 L449.13,246.20 L449.72,240.90 L446.49,239.32 L442.67,243.05 L442.08,248.35 Z" stroke="#000" stroke-width="1.3" fill="#fff" />
<path d="M445.32,249.93 L449.13,246.20 L452.73,247.95 L448.91,251.68 Z" stroke="#000" stroke-width="1.04" fill="#fff" />
<path d="M449.13,246.20 L449.72,240.90 L453.32,242.65 L452.73,247.95 Z" stroke="#000" stroke-width="1.04" fill="#fff" />
<path d="M449.72,240.90 L446.49,239.32 L450.08,241.07 L453.32,242.65 Z" stroke="#000" stroke-width="1.04" fill="#fff" />
<path d="M446.49,239.32 L442.67,243.05 L446.27,244.80 L450.08,241.07 Z" stroke="#000" stroke-width="1.04" fill="#fff" />
<path d="M442.67,243.05 L442.08,248.35 L445.68,250.10 L446.27,244.80 Z" stroke="#000" stroke-width="1.04" fill="#fff" />
<path d="M442.08,248.35 L445.32,249.93 L448.91,251.68 L445.68,250.10 Z" stroke="#000" stroke-width="1.04" fill="#fff" />
<path d="M448.91,251.68 L452.73,247.95 L453.32,242.65 L450.08,241.07 L446.27,244.80 L445.68,250.10 Z" stroke="#000" stroke-width="1.3" fill="#fff" />
<ellipse cx="449.5" cy="246.38" rx="1.8" ry="2.9" transform="rotate(26 449.5 246.38)" stroke="#000" stroke-width="1.1700000000000002" fill="#fff"/>
<ellipse cx="449.9" cy="245.88" rx="1.01" ry="1.624" transform="rotate(26 449.9 245.88)" stroke="#000" stroke-width="1.2" fill="#000"/>
<path d="M331.5,340.3 L642.7,161.4 L684.5,161.4" stroke="#000" stroke-width="1.0" fill="none" />
<path d="M193.5,318 L222,295.5 L235,294.7 L259,301 L246,304.5 L215,311.5 L201,323.5 L196,333 L187.5,334.5 L185,326 Z" fill="#fff" stroke="none"/>
<path d="M193.5,318 L222,295.5 Q224,294.3 227,294.3 L235,294.7 L259,301 L276,296.2" stroke="#000" stroke-width="2.2" fill="none" />
<path d="M283,294 L355,257.8 L362.5,258 L365,260.5 L384.5,252.5" stroke="#000" stroke-width="2.2" fill="none" />
<path d="M187.5,334.5 Q188,327 195,321 L222,301.5 L246,304.5 L259,301" stroke="#000" stroke-width="1.7999999999999998" fill="none" />
<path d="M193.8,333.5 Q195,328.5 201,323.5 L215,311.5 L246,304.5" stroke="#000" stroke-width="1.7999999999999998" fill="none" />
<path d="M222,301.5 L231,298.8" stroke="#000" stroke-width="1.0" fill="none" stroke-dasharray="1 1"/>
<path d="M341.5,287.5 L397,266" stroke="#000" stroke-width="2.2" fill="none" />
<path d="M356,261.5 L359.5,260.5 L359.5,269.5 L363.5,270.5 L374,265 L373.5,262 L364,264 L365,260.5" stroke="#000" stroke-width="1.7" fill="none" />
<path d="M293,313 L293,296 Q293.5,292.5 296,291 L357,261.5" stroke="#000" stroke-width="1.4" fill="none" />
<path d="M296.5,311.5 L296.2,297.5 Q296.5,294.5 299,293 L358,264.5" stroke="#000" stroke-width="1.4" fill="none" />
<path d="M296.5,311.5 Q296,313.5 292,314.5 L285,316 Q283.5,315 284.5,313.5 L291,312.5 Q293,312 293,310" stroke="#000" stroke-width="1.4" fill="none" />
<path d="M334,286.5 L340,287.5 Q346.5,290.5 347.5,294 L347.5,297.5 L323,318 L297,333 L287,338.5" stroke="#000" stroke-width="1.7" fill="none" />
<path d="M346,299.5 L322,320 L298,334.5 L290,339.5" stroke="#000" stroke-width="1.0" fill="none" />
<line x1="246" y1="317.5" x2="272" y2="312" stroke="#000" stroke-width="0.9" stroke-dasharray="5 2 1.5 2"/>
<line x1="298" y1="301.5" x2="334" y2="286.5" stroke="#000" stroke-width="0.9" stroke-dasharray="7 2 1.5 2"/>
<line x1="262.5" y1="324.5" x2="266" y2="324.8" stroke="#000" stroke-width="1.0"/>
<line x1="316" y1="298.5" x2="319" y2="299" stroke="#000" stroke-width="1.0"/>
<line x1="285.5" y1="306.5" x2="289" y2="305" stroke="#000" stroke-width="0.9"/>
<path d="M307.6,329.8 L316,328.2 L316,335.6 Z" stroke="#000" stroke-width="1.0" fill="none" />
<line x1="316" y1="325.6" x2="316" y2="336" stroke="#000" stroke-width="1.4"/>
<path d="M288,341 L229.5,313.6 Q224,313 222.5,318 L221,329 L287.5,358.2" stroke="#000" stroke-width="1.9000000000000001" fill="#fff" />
<path d="M222.5,318 Q223.5,321 222.3,324" stroke="#000" stroke-width="0.8" fill="none" />
<path d="M207.5,331.5 L221,329" stroke="#000" stroke-width="2.8000000000000003" fill="none" />
<line x1="279.7" y1="290" x2="279.7" y2="333.5" stroke="#000" stroke-width="2.2"/>
<line x1="277" y1="333.5" x2="282.5" y2="334.5" stroke="#000" stroke-width="1.0"/>
<path d="M279.9,356 L279.9,426.6 L278,426.6 L207.6,395 L207.6,430" stroke="#000" stroke-width="1.5" fill="none" />
<path d="M383.2,384.4 L317.5,355 Q311.5,357 310.7,364 Q311,370 314.8,372.6 L372,397.8" stroke="#000" stroke-width="1.9000000000000001" fill="#fff" />
<path d="M288,350 L288,379 Q289,384.5 295,384.5 Q300.5,383.5 301,376 L302,358 Z" stroke="#000" stroke-width="1.7999999999999998" fill="#fff" />
<ellipse cx="299" cy="360.5" rx="1.6" ry="2.8" transform="rotate(10 299 360.5)" stroke="#000" stroke-width="1.0" fill="none"/>
<ellipse cx="295" cy="377" rx="1.5" ry="2.4" transform="rotate(25 295 377)" stroke="#000" stroke-width="1.0" fill="none"/>
<path d="M288.5,349.5 Q292,340 300.5,336.8 Q310,333.5 316,336 L335.6,345.2 Q338,349 336.8,353.6 Q335,358 332,360 L302,357.8 Z" stroke="#000" stroke-width="1.7999999999999998" fill="#fff" />
<path d="M302,357.8 L302,385.8 Q303,389 308,389 Q312.5,388 314,383 L314.6,372" stroke="#000" stroke-width="1.7999999999999998" fill="#fff" />
<path d="M305.5,358.5 L305.5,386" stroke="#000" stroke-width="1.0" fill="none" />
<ellipse cx="309.3" cy="382.3" rx="1.5" ry="2.6" transform="rotate(25 309.3 382.3)" stroke="#000" stroke-width="1.0" fill="none"/>
<path d="M302,357.8 Q305,348 313,343.8 Q322,340 327,342.4 L335.6,346 Q338,349 336.8,353.6 Q334.5,359 331,360.5 L328.5,359" stroke="#000" stroke-width="1.7999999999999998" fill="#fff" />
<path d="M305.5,358.5 Q308.5,350 315.3,346 Q319,344 322.5,343.8" stroke="#000" stroke-width="1.0" fill="none" />
<ellipse cx="332" cy="352.3" rx="1.5" ry="2.6" transform="rotate(20 332 352.3)" stroke="#000" stroke-width="1.1" fill="none"/>
<path d="M383.2,384.4 L317.5,355 Q311.5,357 310.7,364 Q311,370 314.8,372.6 L372,397.8" stroke="#000" stroke-width="1.9000000000000001" fill="#fff" />
<path d="M316,374 L316,379 L330,380" stroke="#000" stroke-width="1.0" fill="none" />
<line x1="364.3" y1="348" x2="364.3" y2="369.5" stroke="#000" stroke-width="0.9"/>
<ellipse cx="364" cy="370.8" rx="2.2" ry="1.0" transform="rotate(0 364 370.8)" stroke="#000" stroke-width="0.8" fill="none"/>
<ellipse cx="380.7" cy="377" rx="1.6" ry="0.9" transform="rotate(0 380.7 377)" stroke="#000" stroke-width="0.8" fill="none"/>
<ellipse cx="429" cy="350" rx="1.6" ry="0.9" transform="rotate(0 429 350)" stroke="#000" stroke-width="0.8" fill="none"/>
<path d="M349.6,368.3 L360,363.7" stroke="#000" stroke-width="2.2" fill="none" />
<path d="M366.5,360.8 L406,342 L428.4,335.8 L441,335" stroke="#000" stroke-width="2.2" fill="none" />
<path d="M406.7,370.7 L485.8,316.2" stroke="#000" stroke-width="2.2" fill="none" />
<path d="M429,376.3 L509.6,317" stroke="#000" stroke-width="2.2" fill="none" />
<path d="M395.5,366 L403,363.3 Q404,362.5 404,361 L404,349.5 Q404.5,346 408.5,343.5 L428.4,336.6" stroke="#000" stroke-width="1.4" fill="none" />
<path d="M396.5,369.5 L404.5,367 Q407.3,366 407.3,363 L407.3,351 Q407.8,348 411,346 L431,338.5" stroke="#000" stroke-width="1.4" fill="none" />
<path d="M395.5,366 Q394,367.5 396.5,369.5" stroke="#000" stroke-width="1.4" fill="none" />
<path d="M420,331 L467,308.5 L472,308.7 L476,317 L486,314.2 L496.5,303.5" stroke="#000" stroke-width="2.2" fill="none" />
<path d="M420,335 L468.3,313.4 L469.7,322.5 L475.3,321.2 L485,317.6 L486,314.2" stroke="#000" stroke-width="1.5999999999999999" fill="none" />
<path d="M420,338.6 Q434.7,331.5 449.4,338.6" stroke="#000" stroke-width="1.4" fill="none" />
<ellipse cx="429" cy="350.5" rx="1.4" ry="0.8" transform="rotate(0 429 350.5)" stroke="#000" stroke-width="0.7" fill="none"/>
<path d="M364,414 Q364.5,409.5 366.8,406.4 L394.8,375 Q396.5,373.4 399,373.5 L427,377 L430,376.3 L430.3,381 L427,381.4" stroke="#000" stroke-width="2.2" fill="none" />
<path d="M371,416 Q371.5,411.5 373,408.5 L396.2,380.5 L420,382.3 L427,381.4" stroke="#000" stroke-width="1.7" fill="none" />
<path d="M396.2,413.4 L420,382.6" stroke="#000" stroke-width="2.2" fill="none" />
<path d="M396.2,380.5 L402,378.5" stroke="#000" stroke-width="1.0" fill="none" stroke-dasharray="1 1"/>
<path d="M383,401 L392.5,390.5 Q394.5,389.5 394,392 L384.5,402.5 Z" stroke="#000" stroke-width="0.8" fill="none" />
<path d="M364,414 Q363.5,418.5 367,420 L383,427 Q388,428 392,425" stroke="#000" stroke-width="2.2" fill="none" />
<path d="M378,405 L396.5,413.5" stroke="#000" stroke-width="1.0" fill="none" />
<ellipse cx="390.6" cy="420.6" rx="4.2" ry="6.6" transform="rotate(25 390.6 420.6)" stroke="#000" stroke-width="1.4" fill="#fff"/>
<ellipse cx="391.6" cy="419.6" rx="2.4" ry="4.2" transform="rotate(25 391.6 419.6)" stroke="#000" stroke-width="1.8" fill="#000"/>
<ellipse cx="391.2" cy="421.2" rx="2.0" ry="3.2" transform="rotate(25 391.2 421.2)" stroke="#000" stroke-width="0.6" fill="#fff"/>
<path d="M370,422 L369,425.5 L377,429.5 L379,426" stroke="#000" stroke-width="1.0" fill="none" />
<path d="M193.5,318 L185.5,316.3 Q177,317 176.5,326.5 Q177,332.5 187.5,334.5" stroke="#000" stroke-width="2.2" fill="#fff" />
<path d="M187.5,334.5 Q188,327 193.5,322" stroke="#000" stroke-width="1.7999999999999998" fill="none" />
<path d="M187.5,334.5 L197,340 Q203,341 207,337" stroke="#000" stroke-width="1.9000000000000001" fill="none" />
<ellipse cx="202" cy="332.5" rx="4.6" ry="7.4" transform="rotate(25 202 332.5)" stroke="#000" stroke-width="1.4" fill="#fff"/>
<ellipse cx="203.3" cy="331.5" rx="2.8" ry="4.8" transform="rotate(25 203.3 331.5)" stroke="#000" stroke-width="1.0" fill="none"/>
<ellipse cx="204.5" cy="330" rx="2.2" ry="3.6" transform="rotate(25 204.5 330)" stroke="#000" stroke-width="2.0" fill="#000"/>
<ellipse cx="203.6" cy="333.2" rx="1.8" ry="3.0" transform="rotate(25 203.6 333.2)" stroke="#000" stroke-width="0.6" fill="#fff"/>
<path d="M184,338 L187,336 L193.5,339.5 L192,342.5 Z" stroke="#000" stroke-width="1.0" fill="#fff" />
<path d="M186.5,343 L184.5,347" stroke="#000" stroke-width="0.9" fill="none" stroke-dasharray="2 1.5"/>
<path d="M384.5,252.5 L387.5,247 L386.5,238 Q388,233.5 393,231.5 Q398,229.2 402,229.5 Q408,230.5 411,234 Q414.5,237 413.6,240.5 L407.5,250.5" stroke="#000" stroke-width="2.5" fill="#fff" />
<path d="M390.5,250 L390,239.5 Q391,236.5 394,235 L401,233.2" stroke="#000" stroke-width="1.0" fill="none" />
<path d="M393.5,248 L393,241 L396,237" stroke="#000" stroke-width="0.8" fill="none" />
<ellipse cx="398.3" cy="241.2" rx="1.3" ry="1.3" transform="rotate(0 398.3 241.2)" stroke="#000" stroke-width="1.0" fill="#000"/>
<ellipse cx="409.3" cy="238.8" rx="1.1" ry="1.5" transform="rotate(0 409.3 238.8)" stroke="#000" stroke-width="0.9" fill="none"/>
<path d="M384.5,252.5 L390.5,250 L397,251.5" stroke="#000" stroke-width="2.2" fill="none" />
<path d="M397,252.5 L397,266 Q399,269.5 404,269.5 Q408,269 409.5,266" stroke="#000" stroke-width="2.2" fill="#fff" />
<path d="M397,252.5 Q401,249.5 405,250.5 Q411.5,253 412.3,260.5" stroke="#000" stroke-width="2.2" fill="#fff" />
<ellipse cx="405.8" cy="260.5" rx="4.2" ry="6.6" transform="rotate(25 405.8 260.5)" stroke="#000" stroke-width="1.4" fill="#fff"/>
<ellipse cx="406.8" cy="259.5" rx="2.4" ry="4.2" transform="rotate(25 406.8 259.5)" stroke="#000" stroke-width="1.8" fill="#000"/>
<ellipse cx="406.2" cy="261.4" rx="1.9" ry="3.1" transform="rotate(25 406.2 261.4)" stroke="#000" stroke-width="0.6" fill="#fff"/>
<path d="M496.3,303.6 L499,291 Q501,286 505.4,283.3 Q509,281 512.4,280.5 Q516.5,280.3 519.4,282 Q524,284.5 526.4,288.2 L527,291 L524.3,294.5 L518,303" stroke="#000" stroke-width="2.5" fill="#fff" />
<path d="M502.5,301 L504,291 Q506,287.5 510,285.5 L514.5,284.3" stroke="#000" stroke-width="1.0" fill="none" />
<path d="M505.5,299 L506.5,292 L509.5,288.5" stroke="#000" stroke-width="0.8" fill="none" />
<ellipse cx="511.5" cy="292" rx="1.1" ry="1.1" transform="rotate(0 511.5 292)" stroke="#000" stroke-width="0.9" fill="#000"/>
<path d="M496.3,303.6 L502.5,301 L508.5,302.5" stroke="#000" stroke-width="2.2" fill="none" />
<path d="M508.5,303.5 L509.6,317 Q511.5,320.5 516,320.5 Q520,320 522,317.5" stroke="#000" stroke-width="2.2" fill="#fff" />
<path d="M508.5,303.5 Q512.5,300.8 516.5,301.5 Q523.5,304 524.3,311.5" stroke="#000" stroke-width="2.2" fill="#fff" />
<ellipse cx="518" cy="311.5" rx="4.2" ry="6.6" transform="rotate(25 518 311.5)" stroke="#000" stroke-width="1.4" fill="#fff"/>
<ellipse cx="519" cy="310.5" rx="2.4" ry="4.2" transform="rotate(25 519 310.5)" stroke="#000" stroke-width="1.8" fill="#000"/>
<ellipse cx="518.4" cy="312.4" rx="1.9" ry="3.1" transform="rotate(25 518.4 312.4)" stroke="#000" stroke-width="0.6" fill="#fff"/>
<line x1="678" y1="122" x2="689" y2="144" stroke="#000" stroke-width="0.9"/>
<ellipse cx="641.00" cy="31.50" rx="18.3" ry="8.8" transform="rotate(-13 641.00 31.50)" stroke="#000" stroke-width="5.4" fill="none"/>
<ellipse cx="641.00" cy="31.50" rx="18.3" ry="8.8" transform="rotate(-13 641.00 31.50)" stroke="#fff" stroke-width="3.0" fill="none"/>
<ellipse cx="646.08" cy="44.08" rx="18.3" ry="8.8" transform="rotate(-13 646.08 44.08)" stroke="#000" stroke-width="5.4" fill="none"/>
<ellipse cx="646.08" cy="44.08" rx="18.3" ry="8.8" transform="rotate(-13 646.08 44.08)" stroke="#fff" stroke-width="3.0" fill="none"/>
<ellipse cx="651.17" cy="56.67" rx="18.3" ry="8.8" transform="rotate(-13 651.17 56.67)" stroke="#000" stroke-width="5.4" fill="none"/>
<ellipse cx="651.17" cy="56.67" rx="18.3" ry="8.8" transform="rotate(-13 651.17 56.67)" stroke="#fff" stroke-width="3.0" fill="none"/>
<ellipse cx="656.25" cy="69.25" rx="18.3" ry="8.8" transform="rotate(-13 656.25 69.25)" stroke="#000" stroke-width="5.4" fill="none"/>
<ellipse cx="656.25" cy="69.25" rx="18.3" ry="8.8" transform="rotate(-13 656.25 69.25)" stroke="#fff" stroke-width="3.0" fill="none"/>
<ellipse cx="661.33" cy="81.83" rx="18.3" ry="8.8" transform="rotate(-13 661.33 81.83)" stroke="#000" stroke-width="5.4" fill="none"/>
<ellipse cx="661.33" cy="81.83" rx="18.3" ry="8.8" transform="rotate(-13 661.33 81.83)" stroke="#fff" stroke-width="3.0" fill="none"/>
<ellipse cx="666.42" cy="94.42" rx="18.3" ry="8.8" transform="rotate(-13 666.42 94.42)" stroke="#000" stroke-width="5.4" fill="none"/>
<ellipse cx="666.42" cy="94.42" rx="18.3" ry="8.8" transform="rotate(-13 666.42 94.42)" stroke="#fff" stroke-width="3.0" fill="none"/>
<ellipse cx="671.50" cy="107.00" rx="18.3" ry="8.8" transform="rotate(-13 671.50 107.00)" stroke="#000" stroke-width="5.4" fill="none"/>
<ellipse cx="671.50" cy="107.00" rx="18.3" ry="8.8" transform="rotate(-13 671.50 107.00)" stroke="#fff" stroke-width="3.0" fill="none"/>
<path d="M623.17,35.62 A18.3,8.8 -13 0 0 658.83,27.38" stroke="#000" stroke-width="5.4" fill="none" stroke-linecap="butt"/>
<path d="M623.17,35.62 A18.3,8.8 -13 0 0 658.83,27.38" stroke="#fff" stroke-width="3.0" fill="none" stroke-linecap="butt"/>
<path d="M628.25,48.20 A18.3,8.8 -13 0 0 663.91,39.97" stroke="#000" stroke-width="5.4" fill="none" stroke-linecap="butt"/>
<path d="M628.25,48.20 A18.3,8.8 -13 0 0 663.91,39.97" stroke="#fff" stroke-width="3.0" fill="none" stroke-linecap="butt"/>
<path d="M633.34,60.78 A18.3,8.8 -13 0 0 669.00,52.55" stroke="#000" stroke-width="5.4" fill="none" stroke-linecap="butt"/>
<path d="M633.34,60.78 A18.3,8.8 -13 0 0 669.00,52.55" stroke="#fff" stroke-width="3.0" fill="none" stroke-linecap="butt"/>
<path d="M638.42,73.37 A18.3,8.8 -13 0 0 674.08,65.13" stroke="#000" stroke-width="5.4" fill="none" stroke-linecap="butt"/>
<path d="M638.42,73.37 A18.3,8.8 -13 0 0 674.08,65.13" stroke="#fff" stroke-width="3.0" fill="none" stroke-linecap="butt"/>
<path d="M643.50,85.95 A18.3,8.8 -13 0 0 679.16,77.72" stroke="#000" stroke-width="5.4" fill="none" stroke-linecap="butt"/>
<path d="M643.50,85.95 A18.3,8.8 -13 0 0 679.16,77.72" stroke="#fff" stroke-width="3.0" fill="none" stroke-linecap="butt"/>
<path d="M648.59,98.53 A18.3,8.8 -13 0 0 684.25,90.30" stroke="#000" stroke-width="5.4" fill="none" stroke-linecap="butt"/>
<path d="M648.59,98.53 A18.3,8.8 -13 0 0 684.25,90.30" stroke="#fff" stroke-width="3.0" fill="none" stroke-linecap="butt"/>
<path d="M653.67,111.12 A18.3,8.8 -13 0 0 689.33,102.88" stroke="#000" stroke-width="5.4" fill="none" stroke-linecap="butt"/>
<path d="M653.67,111.12 A18.3,8.8 -13 0 0 689.33,102.88" stroke="#fff" stroke-width="3.0" fill="none" stroke-linecap="butt"/>
<ellipse cx="642.5" cy="33.5" rx="11.5" ry="4.4" transform="rotate(-13 642.5 33.5)" stroke="#000" stroke-width="1" fill="none"/>
<path d="M655,112 Q660,121.5 675,120 Q688,116 690,105" stroke="#000" stroke-width="1.3" fill="none" />
<path d="M674.5,121 L675.3,123.6 L679.3,123 L678.8,120" stroke="#000" stroke-width="1.0" fill="none" />
<clipPath id="bpc"><path d="M688,22.5 Q690,16.5 705.5,10 Q714,8 720.5,9.5 Q725,11 728,17.5 L747,57.5 Q748.5,62.5 745.7,66.5 Q740,74 730.6,77.8 Q721,81.2 713,80.8 Q706.5,79.5 703,75.3 L688.5,33 Q687,27 688,22.5 Z"/></clipPath>
<path d="M688,22.5 Q690,16.5 705.5,10 Q714,8 720.5,9.5 Q725,11 728,17.5 L747,57.5 Q748.5,62.5 745.7,66.5 Q740,74 730.6,77.8 Q721,81.2 713,80.8 Q706.5,79.5 703,75.3 L688.5,33 Q687,27 688,22.5 Z" stroke="#000" stroke-width="1.3" fill="#fff" />
<path d="M706.7,19.2h1.1 M689.1,68.8h0.6 M709.4,12.3h1.1 M699.7,14.4h0.8 M690.5,14.7h0.8 M689.8,49.8h0.6 M726.4,51.1h0.6 M722.9,37.4h0.6 M689.0,71.5h0.8 M712.8,48.0h1.1 M705.7,68.4h0.6 M692.6,50.3h0.6 M709.8,48.5h0.6 M722.1,53.8h0.8 M729.5,39.6h0.8 M715.8,76.3h0.8 M705.2,66.8h1.1 M735.9,14.1h0.8 M719.6,72.8h1.1 M714.7,53.1h0.6 M693.6,38.9h0.8 M695.7,44.2h0.6 M747.6,13.7h1.1 M722.7,72.8h0.8 M707.8,33.9h0.8 M723.1,41.8h0.6 M746.5,43.1h1.1 M690.2,62.1h0.8 M727.4,81.5h0.8 M704.2,36.5h1.1 M708.2,77.6h0.8 M696.8,16.7h0.6 M700.0,29.3h1.1 M701.8,36.9h0.8 M691.2,41.2h1.1 M703.8,18.1h0.8 M741.3,28.6h0.8 M749.1,58.5h0.8 M747.3,19.2h0.6 M695.7,56.7h0.6 M717.0,51.6h0.8 M704.0,18.8h1.1 M709.6,49.9h0.6 M730.2,46.1h1.1 M727.9,62.7h0.8 M743.6,65.7h1.1 M737.1,37.0h0.8 M711.2,43.6h0.8 M690.0,13.0h0.6 M714.2,16.1h1.1 M689.4,8.0h0.6 M720.3,78.2h1.1 M687.6,72.7h1.1 M710.1,54.9h0.8 M724.5,43.1h0.6 M740.3,81.5h0.8 M716.7,31.1h0.6 M692.5,33.4h0.8 M716.6,59.2h1.1 M687.5,78.4h1.1 M709.2,59.1h0.6 M734.5,30.1h1.1 M741.3,59.5h0.8 M719.2,75.2h0.8 M735.4,47.4h1.1 M707.1,24.5h0.6 M737.6,68.6h1.1 M737.4,22.8h0.8 M708.8,10.1h0.6 M736.6,42.9h0.6 M730.3,78.8h0.8 M737.7,61.5h0.8 M747.1,35.0h0.6 M692.5,42.8h0.8 M699.1,54.2h1.1 M739.8,43.5h1.1 M708.0,55.6h1.1 M693.7,36.8h1.1 M734.0,43.4h0.6 M713.8,55.1h0.6 M737.3,79.9h0.8 M715.6,63.0h0.6 M732.4,20.6h0.6 M687.8,51.7h0.8 M737.6,18.8h1.1 M748.7,56.6h0.8 M696.0,48.6h0.6 M686.9,79.8h1.1 M692.6,63.5h0.6 M713.8,72.5h0.6 M687.8,23.7h1.1 M701.4,51.4h0.8 M720.8,69.7h0.6 M744.2,34.2h0.8 M728.4,68.3h1.1 M712.9,75.9h1.1 M694.4,19.2h1.1 M687.2,40.6h0.6 M724.9,65.4h0.6 M697.0,43.0h1.1 M693.7,12.6h1.1 M719.2,49.1h0.6 M742.5,12.2h0.6 M703.7,65.1h1.1 M714.9,10.1h0.6 M714.4,53.3h1.1 M724.8,22.8h0.8 M715.0,47.5h0.8 M718.5,26.3h1.1 M742.1,77.7h0.8 M745.1,74.1h0.6 M739.8,18.1h0.6 M711.1,31.4h1.1 M701.4,13.4h1.1 M705.4,17.1h0.6 M746.1,55.6h0.8 M695.2,73.3h0.8 M700.1,78.5h0.8 M742.6,20.0h1.1 M739.3,19.9h0.8 M749.6,37.9h0.8 M698.5,31.6h1.1 M709.4,33.0h0.8 M714.2,9.3h0.8 M719.1,29.9h0.6 M693.2,76.0h0.6 M748.2,15.8h0.8 M703.4,75.0h0.6 M703.3,17.6h0.8 M740.4,58.0h0.8 M712.0,47.7h1.1 M722.5,59.8h0.6 M703.9,67.2h0.6 M713.2,13.4h0.6 M726.6,67.3h0.6 M724.9,24.5h0.8 M741.2,41.6h0.8 M749.6,38.9h0.8 M725.8,11.2h1.1 M701.3,16.1h0.6 M702.8,21.4h0.8 M726.2,47.3h0.6 M704.6,45.0h0.6 M703.3,67.5h0.8 M688.4,9.4h1.1 M721.3,22.0h0.8 M701.7,41.1h1.1 M738.4,40.0h0.8 M720.9,73.8h1.1 M705.7,23.9h0.6 M707.9,69.6h1.1 M732.6,18.3h0.8 M748.8,69.9h0.6 M690.5,62.8h0.8 M713.6,12.1h1.1 M739.8,72.4h1.1 M748.1,52.3h1.1 M704.8,42.0h0.6 M703.2,8.3h0.8 M747.6,80.0h1.1 M706.7,10.5h0.8 M699.9,21.5h0.8 M710.4,43.1h1.1 M728.0,26.4h0.6 M691.8,68.5h0.6 M711.6,11.1h0.6 M705.2,54.6h0.6 M723.5,47.2h0.6 M728.1,61.0h1.1 M710.9,32.1h0.8 M695.6,61.6h1.1 M695.3,69.0h1.1 M743.1,54.4h1.1 M730.9,45.4h1.1 M734.2,50.1h0.6 M738.9,51.2h1.1 M729.7,59.3h0.6 M691.4,11.1h1.1 M709.1,15.8h0.8 M721.7,54.5h1.1 M720.0,26.1h0.8 M686.2,67.0h1.1 M745.7,74.4h0.6 M728.2,12.9h1.1 M716.3,67.9h0.8 M701.0,64.0h0.6 M733.3,80.2h0.8 M740.1,13.7h1.1 M704.4,11.5h1.1 M727.1,13.7h0.6 M707.2,56.2h1.1 M705.5,50.0h0.6 M716.9,43.9h1.1 M692.4,24.1h0.8 M704.6,46.2h0.8 M715.8,64.8h1.1 M698.8,80.4h0.8 M687.1,42.0h1.1 M748.0,41.3h0.8 M710.8,75.8h0.6 M690.8,14.7h1.1 M719.5,78.5h0.6 M724.6,54.7h0.8 M742.8,60.0h0.6 M717.9,72.8h0.8 M687.6,8.3h0.8 M729.6,38.0h1.1 M695.0,33.5h0.8 M693.7,32.5h0.8 M734.0,70.1h0.6 M746.2,22.5h0.6 M743.7,29.4h0.8 M690.2,36.9h1.1 M690.9,76.5h0.8 M740.7,28.8h0.6 M739.4,29.1h0.6 M702.0,27.7h1.1 M706.2,65.2h0.8 M742.6,68.1h1.1 M711.6,72.8h1.1 M721.2,61.2h0.6 M745.7,38.4h1.1 M734.2,55.7h0.8 M717.1,75.5h1.1 M694.1,42.9h0.8 M704.0,26.9h1.1 M748.5,27.3h1.1 M701.3,43.8h1.1 M711.2,20.4h0.6 M690.8,45.0h0.8 M721.2,41.5h0.8 M749.8,41.3h0.6 M721.1,26.1h0.6 M707.9,14.7h0.6 M709.6,67.9h0.6 M742.8,63.5h0.8 M710.5,63.2h0.6 M710.1,33.0h0.6 M717.9,50.5h0.8 M694.1,45.3h1.1 M736.6,70.8h0.6 M703.3,26.4h0.8 M727.3,40.0h0.8 M740.3,72.6h0.6 M694.1,39.5h0.8 M748.0,44.2h0.6 M711.1,76.6h1.1 M740.7,79.9h0.6 M736.1,24.6h0.6 M719.4,58.5h1.1 M730.9,70.6h0.8 M691.4,65.5h0.6 M736.1,25.2h0.6 M727.3,30.5h0.6 M726.1,47.1h0.8 M730.7,16.3h0.6 M705.2,77.8h0.6 M710.8,24.5h1.1 M686.1,47.8h0.8 M703.8,31.4h0.6 M716.4,25.4h0.6 M687.9,38.5h1.1 M705.7,9.6h0.8 M742.6,55.9h0.6 M702.5,57.4h0.8 M700.5,10.5h0.8 M732.0,34.8h0.8 M698.7,67.0h1.1 M740.1,13.0h0.8 M748.1,31.1h0.6 M700.8,24.4h0.8 M693.0,54.1h1.1 M698.0,24.5h0.8 M744.3,12.2h1.1 M695.4,37.1h0.6 M687.5,52.1h0.8 M689.3,12.5h0.8 M714.8,60.7h0.8 M732.9,81.8h0.6 M707.1,21.7h1.1 M733.8,10.4h1.1 M732.4,70.1h0.8 M714.3,16.1h0.6 M703.9,34.0h0.6 M721.9,64.2h0.8 M708.8,68.8h0.8 M691.6,60.2h0.6 M709.9,76.0h0.6 M706.7,62.6h0.8 M687.9,38.4h1.1 M735.1,11.0h0.6 M715.7,67.4h0.6 M702.4,63.3h1.1 M707.7,28.2h1.1 M688.8,63.2h1.1 M706.3,28.4h0.6 M732.2,52.1h1.1 M746.6,12.8h0.6 M692.9,61.0h0.8 M747.1,36.6h0.8 M744.5,68.3h0.6 M745.4,21.5h1.1 M705.4,59.2h0.6 M724.9,32.3h0.8 M715.5,66.0h1.1 M691.1,22.6h0.6 M701.8,12.8h0.6 M716.8,48.3h0.6 M748.7,73.4h0.6 M703.0,14.2h0.6 M712.9,81.1h0.8 M697.1,17.8h0.8 M725.7,57.9h1.1 M720.5,65.3h0.6 M735.9,29.8h0.8 M722.3,35.6h1.1 M702.7,40.5h0.6 M701.7,19.3h1.1 M698.0,12.8h0.8 M749.5,45.5h0.6 M727.6,15.4h0.8 M749.4,15.6h0.8 M742.5,25.1h0.8 M744.5,11.0h0.8 M700.9,11.7h1.1 M748.3,51.2h0.6 M709.8,72.1h0.8 M724.6,65.3h1.1 M746.5,15.8h1.1 M731.4,33.9h0.6 M709.6,18.5h0.6 M750.0,10.8h1.1 M727.7,23.1h0.6 M738.4,38.3h0.8 M697.8,31.1h0.6 M688.0,44.7h0.8 M690.0,15.5h0.8 M728.5,19.4h1.1 M691.8,20.1h1.1 M703.4,81.1h1.1 M705.7,78.5h0.8 M733.7,73.4h0.8 M712.7,72.0h0.8 M727.2,36.9h0.8 M699.0,8.4h0.6 M713.1,68.7h0.8 M723.0,35.0h0.6 M694.3,11.8h0.6 M727.0,75.3h0.6 M722.7,76.6h1.1 M718.3,18.8h0.8 M696.4,20.7h0.6 M693.0,44.3h0.6 M705.3,70.0h0.6 M748.4,43.7h0.6 M724.9,55.1h0.6 M743.9,53.9h0.6 M727.0,71.4h1.1 M711.9,70.6h0.8 M697.7,24.1h0.8 M746.1,19.6h0.8 M693.9,26.3h1.1 M738.2,22.3h1.1 M739.9,57.7h1.1 M739.6,16.7h1.1 M715.2,70.8h0.8 M727.5,30.8h0.6 M713.2,56.8h0.8 M718.2,21.2h0.6 M725.6,44.2h0.6 M714.6,53.8h0.8 M739.5,68.0h0.8 M692.9,17.5h0.8 M709.4,67.4h1.1 M718.7,11.0h1.1 M694.3,76.2h0.8 M735.8,45.8h0.6 M734.1,74.2h1.1 M746.9,18.1h0.6 M749.8,62.2h0.6 M698.4,80.6h0.8 M704.4,68.0h0.6 M729.9,61.4h0.6 M690.2,34.0h0.8 M696.2,74.3h0.8 M743.9,41.8h0.8 M718.1,76.1h0.6 M723.9,53.6h0.6 M706.4,10.7h0.6 M711.8,55.1h0.8 M729.5,74.3h0.6 M736.7,27.6h1.1 M689.1,71.5h0.8 M721.5,50.9h0.6 M702.1,47.6h0.8 M733.2,35.5h0.8 M749.4,50.7h0.8 M707.2,14.0h0.6 M697.3,63.0h0.6 M705.0,46.2h0.8 M726.9,80.8h1.1 M745.4,74.3h1.1 M686.1,10.5h0.6 M704.6,54.3h0.8 M718.8,74.3h0.6 M717.3,53.3h0.6 M687.4,8.2h0.8 M705.4,46.7h1.1 M700.4,51.2h1.1 M694.6,35.1h0.8 M696.2,9.0h0.6 M731.3,41.4h0.6 M726.8,72.5h0.8 M711.7,27.6h0.6 M689.6,68.7h0.8 M724.1,50.8h1.1 M746.0,62.3h0.6 M696.6,8.0h0.6 M720.0,38.0h0.6 M696.2,75.5h0.6 M686.8,48.8h0.6 M695.1,22.8h1.1 M727.1,55.9h0.8 M738.1,20.9h0.8 M690.1,54.3h1.1 M736.1,60.9h0.6 M710.0,40.3h0.8 M691.2,56.5h0.6 M700.5,15.8h0.6 M727.2,17.1h1.1 M745.2,77.8h0.8 M731.5,27.7h1.1 M729.5,58.7h1.1 M748.2,29.9h0.6 M691.5,45.5h0.6 M702.7,25.5h1.1 M699.0,19.8h0.8 M698.3,36.8h1.1 M701.3,75.2h1.1 M745.0,80.6h1.1 M716.0,70.1h1.1 M686.4,10.0h1.1 M701.0,73.5h0.6 M711.1,51.3h1.1 M744.3,18.7h0.6 M693.2,54.0h0.6 M708.1,18.5h0.6 M688.0,18.2h1.1 M726.6,59.6h1.1 M689.0,71.4h0.8 M698.8,78.6h1.1 M743.0,12.9h1.1 M746.4,15.9h0.6 M699.0,10.5h1.1 M691.6,63.6h1.1 M704.4,15.4h0.6 M736.7,55.8h0.8 M706.4,39.4h0.6 M708.5,76.8h0.6 M731.8,35.2h0.8 M735.2,52.5h0.8 M740.5,53.8h0.6 M736.5,10.3h1.1 M735.5,33.7h1.1 M689.1,49.9h1.1 M741.2,14.7h0.8 M696.9,8.1h0.6 M704.5,63.5h0.6 M686.3,44.3h0.8 M730.5,69.1h0.8 M723.9,78.8h1.1 M702.7,77.8h0.8 M738.2,77.4h0.6 M717.9,16.1h1.1 M735.1,44.3h1.1 M721.9,15.7h0.8 M708.8,37.7h0.8 M743.1,63.1h0.8 M742.9,9.9h0.6 M705.4,39.7h1.1 M718.1,36.1h1.1 M700.9,42.1h1.1 M724.0,59.0h1.1 M727.4,33.8h0.8 M719.4,72.2h0.8 M728.4,62.9h0.6 M715.6,59.0h0.8 M723.1,17.3h0.8 M727.1,59.5h1.1 M698.3,30.3h1.1 M738.9,53.7h1.1 M696.0,26.3h0.8 M724.6,33.8h0.6 M707.0,22.0h1.1 M749.7,20.2h1.1 M692.5,36.4h0.6 M736.9,62.3h0.8 M703.5,16.1h0.6 M704.0,73.5h0.8 M688.2,37.5h0.8 M730.4,45.0h1.1 M705.0,9.6h0.8 M724.6,37.9h1.1 M701.5,71.1h1.1 M722.7,63.4h0.8 M740.1,57.4h1.1 M742.3,65.3h1.1 M723.4,24.9h0.6 M727.1,41.6h0.8 M702.6,59.8h0.8 M701.5,37.6h1.1 M726.3,26.5h0.8 M716.9,9.5h0.8 M719.2,56.9h0.6 M743.2,32.3h0.6 M710.9,44.2h0.6 M688.4,48.2h0.6 M731.8,78.4h0.6 M719.2,15.5h1.1 M715.2,23.2h0.8 M718.8,55.3h0.8 M719.4,38.4h0.8 M699.4,58.6h0.8 M718.9,77.0h1.1 M749.0,34.3h0.6 M702.2,36.3h0.6 M686.9,39.0h0.8 M726.2,57.9h1.1 M703.0,24.6h1.1 M711.6,78.6h0.6 M749.6,79.1h0.8 M699.6,17.6h0.6 M737.8,54.9h0.8 M727.1,61.3h0.6 M708.6,55.3h0.8 M716.0,29.8h1.1 M727.6,65.7h0.8 M708.7,70.9h0.8 M731.1,58.9h0.8 M729.4,43.6h1.1 M737.1,34.5h1.1 M705.3,43.5h0.8 M725.9,14.3h0.8 M695.8,30.4h0.8 M689.7,69.3h0.8 M736.2,18.4h0.8 M726.5,9.1h0.6 M699.4,13.3h0.8 M702.0,15.5h0.6 M740.7,21.7h0.8 M708.2,19.3h0.8 M736.7,20.4h1.1 M724.9,65.8h1.1 M743.7,48.6h1.1 M739.7,22.6h1.1 M699.6,13.8h0.8 M729.0,16.7h0.6 M702.9,25.3h0.6 M716.3,49.2h0.8 M715.9,18.7h0.8 M701.8,20.2h1.1 M741.2,8.5h0.8 M715.9,49.6h1.1 M705.0,42.5h0.8 M712.8,79.1h0.6 M697.6,34.7h1.1 M687.8,53.1h1.1 M733.1,81.9h0.6 M718.7,43.9h0.6 M688.2,61.1h1.1 M694.1,15.0h1.1 M709.4,43.1h1.1 M721.5,75.5h0.8 M713.9,39.3h1.1 M689.4,29.4h0.8 M739.0,37.9h1.1 M749.0,72.6h0.8 M748.4,56.4h0.6 M707.2,31.5h0.8 M694.2,80.0h0.6 M736.2,11.0h1.1 M721.5,38.0h1.1 M689.2,30.2h0.6 M689.0,68.8h0.8 M725.0,56.7h1.1 M744.2,53.3h1.1 M695.4,57.9h1.1 M724.2,58.4h0.6 M688.5,54.9h1.1 M734.8,15.5h0.6 M741.6,39.2h0.6 M744.5,56.5h0.8 M741.8,18.3h0.8 M722.0,27.1h0.8 M697.8,10.5h0.6 M713.6,55.5h0.6 M717.9,46.6h0.6 M735.5,39.2h1.1 M744.8,41.0h0.6 M729.5,51.9h1.1 M748.8,43.2h0.8 M721.1,14.1h0.8 M699.6,19.2h0.6 M713.3,8.7h1.1 M693.8,79.5h0.6 M700.0,17.0h0.8 M687.1,61.2h0.6 M714.8,63.1h0.6 M709.4,63.3h1.1 M740.8,62.0h0.6 M704.8,49.3h0.8 M715.5,77.0h0.8 M744.5,11.9h0.6 M686.7,9.1h1.1 M729.9,53.7h0.8 M705.9,62.0h0.6 M747.3,69.8h1.1 M689.8,35.2h1.1 M732.6,42.8h0.6 M695.3,67.0h0.8 M747.0,20.1h0.8 M716.5,65.6h0.8 M746.5,66.1h1.1 M707.4,28.7h1.1 M748.3,60.0h1.1 M707.3,52.8h0.6 M739.2,52.5h0.8 M723.4,80.3h0.6 M710.1,58.7h1.1 M735.4,25.3h0.8 M704.1,8.1h0.8 M703.2,19.6h0.6 M704.5,18.4h1.1 M695.4,80.2h1.1 M729.8,75.6h0.8 M720.2,48.0h0.8 M737.0,22.8h1.1 M745.6,25.3h1.1 M689.7,37.3h1.1 M699.2,26.9h0.6 M736.7,42.0h0.6 M720.3,34.3h0.6 M700.9,50.9h0.8 M742.6,46.6h0.8 M718.4,22.9h0.6 M698.3,21.4h1.1 M704.5,50.8h0.8 M711.8,46.3h0.6 M701.8,76.3h0.8 M709.9,15.9h1.1 M715.7,14.0h0.8 M724.2,33.5h1.1 M724.9,15.0h0.6 M749.4,72.1h0.8 M723.5,23.8h0.8 M713.3,78.0h1.1 M738.4,79.3h0.8 M740.0,33.1h0.6 M710.2,10.0h0.6 M721.7,72.4h0.8 M717.2,70.6h0.6 M741.2,55.3h0.6 M731.2,14.7h0.8 M722.1,55.4h1.1 M718.4,21.5h0.6 M709.7,25.4h1.1 M700.2,10.9h0.8 M746.2,12.4h1.1 M743.9,70.0h0.6 M702.5,46.0h1.1 M727.4,80.9h0.6 M692.5,31.5h0.6 M746.1,58.1h0.8 M723.7,40.7h1.1 M692.7,32.0h0.8 M711.0,35.7h0.8 M696.8,25.6h0.6 M744.5,74.0h0.8 M731.9,22.4h0.6 M696.0,69.6h0.6 M745.8,72.1h1.1 M694.9,41.1h0.6 M745.3,36.5h0.6 M726.2,41.5h0.8 M706.6,25.3h0.6 M726.2,18.6h0.6 M733.1,21.3h0.8 M721.4,18.7h0.6 M703.0,38.5h0.6 M687.6,50.3h0.8 M707.4,20.4h0.8 M693.0,41.8h0.8 M693.3,80.4h0.6 M726.4,66.3h0.6 M721.8,69.8h0.6 M702.5,22.9h0.8 M713.7,27.4h0.6 M745.2,15.2h0.8 M712.6,20.0h1.1 M748.6,18.7h1.1 M687.0,67.7h0.8 M718.7,40.8h1.1 M704.3,34.6h0.6 M744.4,24.2h1.1 M697.6,70.4h1.1 M735.3,60.7h0.6 M724.4,69.3h1.1 M732.8,64.3h0.6 M699.2,53.3h1.1 M726.2,22.2h0.8 M698.9,12.9h1.1 M719.3,70.2h0.6 M719.2,33.7h0.8 M739.9,72.0h0.8 M691.8,38.3h0.8 M694.5,57.2h0.6 M697.9,69.5h0.8 M688.3,60.0h1.1 M724.1,8.3h1.1 M745.7,79.7h0.6 M693.7,60.9h0.8 M735.9,72.2h1.1 M734.1,12.5h0.6 M747.1,44.6h1.1 M687.6,67.5h0.6 M687.3,79.6h0.6 M725.6,20.4h0.8 M702.0,68.5h0.6 M687.2,76.5h1.1 M698.5,9.3h1.1 M726.8,42.3h0.6 M731.0,15.6h0.6 M731.9,11.3h0.6 M715.8,51.4h0.8 M693.0,17.0h0.6 M720.7,24.8h0.6 M695.4,50.4h1.1 M711.4,78.2h0.6 M746.0,36.8h0.8 M724.2,52.6h0.6 M711.3,77.7h0.8 M707.7,25.8h0.8 M731.8,70.4h1.1 M737.5,75.5h0.8 M740.2,12.0h1.1 M695.4,58.3h0.8 M702.0,39.2h1.1 M686.7,16.1h0.6 M690.4,40.0h1.1 M728.8,24.7h0.8 M748.1,65.5h0.8 M726.5,67.9h0.6 M688.2,55.5h0.8 M744.7,54.1h1.1 M720.7,76.4h1.1 M692.4,17.0h0.6 M713.8,78.4h0.8 M693.2,33.7h0.6 M693.7,52.0h1.1 M743.7,14.3h1.1 M720.2,19.0h0.6 M718.7,73.5h0.8 M723.0,28.3h1.1 M691.6,48.4h0.8 M725.0,50.2h1.1 M710.7,48.6h0.8 M715.5,48.6h1.1 M716.6,68.6h0.6 M701.5,24.4h1.1 M720.9,79.8h0.8 M686.8,34.1h0.6 M706.7,32.1h0.8 M704.2,81.1h0.8 M689.6,9.6h1.1 M690.3,72.5h0.8 M728.1,46.3h0.8 M708.7,64.5h1.1 M700.4,79.0h1.1 M745.8,38.8h1.1 M708.6,58.0h1.1 M725.1,28.5h1.1 M692.1,71.4h0.8 M703.2,54.7h1.1 M744.5,17.4h0.6 M686.3,64.7h1.1 M693.5,37.4h1.1 M695.6,70.9h0.8 M741.9,52.9h0.8 M740.5,59.3h0.8 M732.3,29.7h0.8 M719.7,52.1h1.1 M706.6,66.2h0.8 M710.4,30.2h1.1 M705.5,18.7h1.1 M710.1,25.2h0.8 M706.7,70.4h0.6 M747.4,23.1h0.8 M743.0,78.7h0.6 M689.0,49.8h0.8 M705.2,47.7h0.8 M720.5,81.9h1.1 M738.8,61.8h0.8 M710.9,34.5h1.1 M729.3,41.5h0.6 M729.3,46.9h0.6 M712.2,45.1h1.1 M721.9,50.5h0.6 M747.7,44.0h0.8 M735.1,74.5h1.1 M708.0,47.2h0.6 M696.9,31.5h0.6 M738.9,45.9h0.6 M728.0,29.8h0.8 M738.5,81.3h0.8 M726.4,46.8h1.1 M699.3,74.1h0.8 M697.7,54.6h1.1 M692.8,50.2h1.1 M726.7,11.1h0.8 M686.7,8.2h1.1 M730.2,8.3h0.8 M711.4,15.3h0.6 M728.8,22.6h0.8 M735.2,50.0h1.1 M743.3,46.1h0.6 M722.8,38.4h0.6 M695.3,46.4h1.1 M692.8,15.4h0.6 M746.7,44.3h0.8 M725.2,67.7h0.6 M727.6,58.7h1.1 M706.7,60.9h0.8 M703.6,10.4h1.1 M692.4,74.9h1.1 M690.0,22.2h1.1 M710.7,12.0h0.8 M723.3,79.0h0.8 M689.5,25.6h0.6 M688.8,76.9h0.6 M706.1,74.5h0.8 M705.4,52.6h0.8 M748.7,13.0h1.1 M710.9,61.2h0.6 M712.5,37.5h1.1 M717.0,66.7h0.6 M691.6,20.6h0.8 M697.9,79.9h0.8 M711.3,34.9h0.8 M720.2,36.5h0.8 M727.7,79.1h0.8 M738.9,34.0h0.6 M710.8,42.6h0.8 M701.2,10.6h1.1 M687.6,67.6h0.6 M731.2,14.9h0.8 M720.9,66.3h1.1 M714.4,69.9h0.6 M696.2,34.1h1.1 M711.9,54.6h1.1 M699.3,78.4h1.1 M699.1,71.5h1.1 M694.4,60.3h0.8 M724.1,40.6h0.8 M720.2,37.9h1.1 M699.6,72.6h0.6 M729.4,14.8h0.8 M733.1,64.6h0.6 M728.1,50.0h0.8 M687.0,60.6h1.1 M697.3,71.0h0.8 M698.1,74.0h0.6 M722.0,34.7h1.1 M734.5,22.3h1.1 M705.9,24.8h0.6 M738.3,37.5h0.8 M711.8,75.3h1.1 M742.5,71.7h0.6 M746.0,21.1h0.8 M729.5,57.1h0.8 M743.4,9.9h1.1 M730.8,26.4h0.8 M708.5,54.5h0.6 M704.7,28.0h1.1 M733.0,60.7h0.6 M711.9,53.0h0.8 M698.7,30.4h0.8 M733.3,48.9h1.1 M726.9,21.3h0.6 M722.5,61.0h0.8 M745.2,57.6h1.1 M708.3,8.1h1.1 M704.3,11.2h1.1 M724.9,11.5h0.6 M729.6,10.7h0.8 M699.4,75.7h1.1 M744.5,38.9h1.1 M711.2,63.3h0.6 M704.0,14.7h0.8 M714.3,33.2h1.1 M733.3,69.4h1.1 M726.1,45.6h1.1 M730.7,39.7h1.1 M740.2,65.6h0.8 M734.8,11.2h1.1 M738.8,49.4h0.6 M721.0,79.7h1.1 M701.1,27.3h0.6 M696.8,33.7h0.6 M698.9,31.0h0.6 M729.9,44.0h0.8 M701.2,25.9h1.1 M730.3,17.8h1.1 M708.5,30.2h1.1 M695.1,49.7h0.8 M726.3,16.7h0.8 M734.7,20.5h1.1 M695.9,80.5h0.8 M739.2,16.5h0.8 M686.8,44.0h0.6 M689.9,28.8h0.6 M693.1,30.9h0.6 M696.3,40.9h1.1 M709.2,20.4h0.6 M688.9,42.7h0.8 M691.4,61.1h1.1 M722.1,16.1h0.8 M747.2,44.1h1.1 M706.6,34.6h0.6 M727.2,54.5h1.1 M727.8,26.6h0.6 M691.0,63.3h0.6 M735.6,70.1h0.8 M709.5,79.2h1.1 M740.1,76.6h0.6 M692.5,61.2h0.8 M733.5,32.2h0.6 M727.4,34.4h0.6 M709.6,48.8h0.8 M739.6,26.8h0.6 M688.6,49.9h1.1 M744.9,82.0h0.8 M743.9,77.9h0.8 M713.1,62.1h0.8 M724.6,54.4h0.6 M730.0,20.1h0.8 M726.8,37.7h0.6 M740.4,43.5h0.6 M732.3,8.2h1.1 M740.7,66.2h0.8 M695.2,13.3h0.6 M718.9,39.2h0.8 M690.0,8.7h0.6 M743.9,20.2h0.8 M686.3,67.5h1.1 M708.3,22.5h0.6 M720.7,46.2h0.8 M748.2,75.2h0.6 M748.4,79.2h1.1 M691.2,67.9h1.1 M729.3,53.1h0.8 M722.2,39.2h0.8 M716.8,55.9h0.8 M741.4,47.2h1.1 M687.8,22.0h1.1 M733.3,59.2h0.6 M728.3,35.5h1.1 M746.4,34.6h0.6 M722.1,37.3h0.6 M700.5,79.7h0.6 M721.1,16.3h0.8 M727.6,21.9h1.1 M702.1,44.2h1.1 M715.3,48.1h1.1 M693.2,46.0h1.1 M722.3,71.0h1.1 M690.7,40.5h1.1 M721.2,60.9h0.6 M726.1,79.1h1.1 M692.5,69.4h0.8 M720.8,79.6h0.6 M722.0,65.3h0.6 M709.9,53.8h0.8 M701.2,35.6h0.6 M730.9,78.7h0.8 M705.2,60.3h0.8 M744.1,14.5h0.6 M722.0,75.9h0.8 M696.8,63.2h0.8 M737.5,62.5h0.6 M738.8,17.1h0.8 M718.8,46.8h0.8 M732.2,11.2h1.1 M708.6,34.3h0.8 M737.4,16.4h1.1 M701.5,34.2h1.1 M714.6,70.0h1.1 M714.2,66.5h0.8 M693.1,67.3h0.6 M695.6,76.9h1.1 M728.9,69.9h1.1 M742.0,47.8h1.1 M734.7,27.9h0.8 M686.9,33.3h0.6 M717.2,43.8h0.6 M737.2,10.6h0.6 M725.7,55.7h1.1 M711.1,43.2h0.6 M730.3,41.2h0.6 M741.9,53.2h0.6 M709.1,47.1h0.8 M743.2,51.6h0.6 M699.5,68.6h1.1 M715.9,50.7h0.8 M746.0,31.3h0.8 M723.1,32.7h0.6 M701.9,72.8h1.1 M688.9,18.8h1.1 M695.2,36.4h0.6 M718.0,27.4h1.1 M722.7,51.2h0.6 M749.5,10.5h1.1 M743.8,15.0h0.6 M735.6,54.8h1.1 M692.3,66.6h0.6 M741.9,77.5h1.1 M690.6,79.3h0.8 M733.3,45.7h1.1 M701.7,72.6h1.1 M712.0,12.5h0.8 M729.0,73.4h0.8 M718.2,74.2h0.6 M749.8,19.2h0.6 M686.5,72.5h0.8 M711.9,37.3h0.8 M745.5,51.4h0.6 M705.3,30.8h1.1 M722.6,56.8h0.8 M690.7,22.1h0.6 M723.4,30.5h0.8 M749.2,34.4h1.1 M713.4,72.3h0.6 M739.7,31.6h0.6 M703.7,27.1h0.6 M734.5,54.4h0.6 M731.1,24.2h0.8 M714.7,74.1h0.8 M741.3,56.0h0.6 M701.5,12.2h0.6 M724.5,13.9h1.1 M707.8,18.1h0.6 M703.3,55.5h0.6 M727.0,76.3h0.6 M706.6,72.2h0.6 M727.5,38.0h1.1 M737.2,20.9h0.8 M737.0,14.5h1.1 M707.4,44.6h1.1 M711.6,77.6h0.6 M687.6,31.4h1.1 M749.2,12.1h1.1 M731.4,69.8h0.6 M692.0,19.6h0.6 M719.9,70.2h0.8 M738.1,39.3h1.1 M729.5,72.1h0.6 M728.1,52.5h0.8 M700.7,53.8h1.1 M716.6,10.3h1.1 M705.8,65.2h1.1 M715.0,28.6h1.1 M719.9,28.3h0.8 M686.6,43.2h1.1 M737.8,80.3h0.6 M749.3,24.9h0.6 M746.0,54.2h0.6 M689.9,45.1h1.1 M735.8,27.2h1.1 M709.4,19.0h0.6 M741.7,71.3h0.6 M719.8,34.0h1.1 M701.5,80.7h0.8 M699.6,75.5h0.8 M715.4,32.0h0.6 M692.9,62.3h0.6 M737.6,75.6h1.1 M741.3,12.4h1.1 M710.1,75.1h0.8 M746.5,54.4h0.6 M688.0,9.5h1.1 M713.8,25.1h0.6 M706.9,39.5h0.8 M705.1,81.6h0.6 M748.8,66.5h0.8 M741.2,72.3h0.8 M747.1,18.1h0.8 M704.1,32.5h0.8 M741.8,26.5h0.8 M729.7,52.2h0.8 M699.6,11.9h0.6 M740.5,62.4h0.6 M735.9,71.9h0.6 M713.8,18.3h0.8 M729.8,67.6h0.6 M748.4,8.7h0.8 M695.7,62.5h0.6 M734.1,42.4h0.8 M691.8,33.1h1.1 M731.8,73.3h0.6 M723.5,22.9h1.1 M730.1,10.8h1.1 M724.1,50.5h1.1 M692.7,9.5h0.8 M690.1,16.2h0.8 M748.1,46.9h0.6 M697.5,58.7h0.6 M726.5,48.4h0.6 M719.9,70.1h0.6 M708.4,23.9h0.6 M732.8,28.2h0.6 M687.0,27.9h0.6 M698.6,11.5h1.1 M746.9,27.8h0.8 M730.0,56.3h1.1 M704.1,32.5h0.8 M748.9,72.7h1.1 M703.2,39.2h1.1 M712.8,80.0h0.8 M734.7,73.2h0.6 M743.5,55.0h0.6 M724.9,76.5h0.8 M730.4,62.0h0.6 M738.8,57.1h0.6 M740.0,66.0h1.1 M689.2,59.4h0.8 M729.8,40.7h1.1 M706.2,79.9h0.6 M716.3,55.9h0.8 M718.6,51.8h0.8 M701.0,54.6h1.1 M741.6,34.3h0.6 M711.2,46.9h1.1 M728.2,69.1h0.6 M726.2,48.2h0.6 M745.1,64.6h0.8 M744.2,43.0h1.1 M708.3,51.6h1.1 M700.2,18.5h1.1 M709.3,23.2h0.6 M738.1,25.7h0.6 M695.8,57.0h0.6 M727.0,69.2h1.1 M741.5,11.2h0.8 M709.2,71.9h0.8 M693.9,19.4h0.8 M710.0,35.0h1.1 M737.4,46.6h0.8 M728.4,28.4h0.8 M749.8,59.4h0.8 M726.6,62.1h0.6 M734.6,19.1h1.1 M694.4,44.2h1.1 M701.2,35.4h0.8 M737.3,26.7h1.1 M698.9,50.2h0.6 M723.8,30.7h1.1 M703.6,32.0h0.6 M703.0,40.4h1.1 M726.7,71.6h0.6 M694.2,78.9h0.8 M725.5,35.5h0.6 M731.9,35.8h0.6 M731.6,29.8h0.8 M713.6,53.0h0.8 M708.6,36.5h1.1 M694.3,53.8h1.1 M723.1,12.7h0.6 M707.1,13.2h0.8 M710.3,46.9h0.8 M745.9,55.6h0.6 M692.9,49.7h0.8 M730.9,40.3h0.8 M697.3,12.8h0.8 M717.4,45.9h0.6 M728.9,62.8h0.8 M720.7,76.5h0.8 M721.4,64.9h0.8 M693.6,24.3h0.6 M722.5,9.1h0.8 M691.6,63.7h1.1 M715.1,69.0h0.6 M731.5,43.7h0.6 M721.2,63.3h1.1 M695.0,38.1h0.6 M741.8,18.8h0.8 M698.2,80.7h0.6 M749.3,28.3h0.8 M691.5,36.4h1.1 M741.0,49.1h1.1 M742.7,58.4h0.8 M705.5,72.1h0.8 M740.8,27.0h0.6 M694.4,23.4h1.1 M709.9,42.4h0.8 M731.4,18.5h0.8 M698.8,76.0h1.1 M728.5,62.0h0.6 M720.1,38.3h1.1 M738.7,10.6h0.6 M736.9,29.6h1.1 M699.4,80.0h1.1 M715.1,77.2h0.8 M699.0,23.0h0.6 M713.8,55.3h0.6 M694.8,73.1h1.1 M717.8,9.1h1.1 M721.9,67.3h0.8 M700.1,61.3h1.1 M704.9,23.6h0.6 M695.3,75.9h0.6 M719.0,42.5h0.6 M736.2,78.4h0.8 M700.3,69.7h1.1 M744.0,58.8h0.6 M741.6,76.4h0.6 M688.7,69.9h0.8 M734.5,72.7h0.8 M731.2,61.2h0.8 M744.4,32.0h0.6 M695.7,67.2h0.6 M711.1,10.4h0.8 M696.0,29.5h1.1 M720.9,14.9h0.8 M695.5,21.6h0.8 M729.5,16.5h0.8 M693.8,76.3h1.1 M746.1,46.9h0.8 M717.4,9.3h0.8 M742.9,75.6h0.6 M717.0,71.9h1.1 M723.4,64.0h0.6 M694.9,28.1h0.6 M723.0,30.2h1.1 M724.3,79.6h0.8 M698.4,19.3h0.8 M689.2,32.7h0.8 M716.8,32.4h0.8 M697.4,66.3h0.8 M737.8,61.6h0.8 M692.1,48.8h0.6 M724.1,42.1h0.6" stroke="#000" stroke-width="0.75" fill="none" clip-path="url(#bpc)" stroke-linecap="butt"/>
<ellipse cx="705.5" cy="18.8" rx="6.4" ry="3.8" transform="rotate(-30 705.5 18.8)" stroke="#000" stroke-width="1.2" fill="#fff"/>
<ellipse cx="705.2" cy="19.6" rx="3.8" ry="1.7" transform="rotate(-30 705.2 19.6)" stroke="#000" stroke-width="1.6" fill="#000"/>
<path d="M688.5,31 Q700,38 716,30 Q727,24 728,17.5" stroke="#000" stroke-width="0.6" fill="none" stroke-dasharray="1.5 2"/>
<line x1="651" y1="137" x2="686" y2="153" stroke="#000" stroke-width="0.9"/>
<path d="M641.63,137.60 L645.05,134.26 L645.57,129.50 L642.68,128.09 L639.25,131.43 L638.73,136.18 Z" stroke="#000" stroke-width="1.3" fill="#fff" />
<path d="M641.63,137.60 L645.05,134.26 L647.75,135.57 L644.32,138.91 Z" stroke="#000" stroke-width="1.04" fill="#fff" />
<path d="M645.05,134.26 L645.57,129.50 L648.27,130.82 L647.75,135.57 Z" stroke="#000" stroke-width="1.04" fill="#fff" />
<path d="M645.57,129.50 L642.68,128.09 L645.37,129.40 L648.27,130.82 Z" stroke="#000" stroke-width="1.04" fill="#fff" />
<path d="M642.68,128.09 L639.25,131.43 L641.95,132.74 L645.37,129.40 Z" stroke="#000" stroke-width="1.04" fill="#fff" />
<path d="M639.25,131.43 L638.73,136.18 L641.43,137.50 L641.95,132.74 Z" stroke="#000" stroke-width="1.04" fill="#fff" />
<path d="M638.73,136.18 L641.63,137.60 L644.32,138.91 L641.43,137.50 Z" stroke="#000" stroke-width="1.04" fill="#fff" />
<path d="M644.32,138.91 L647.75,135.57 L648.27,130.82 L645.37,129.40 L641.95,132.74 L641.43,137.50 Z" stroke="#000" stroke-width="1.3" fill="#fff" />
<ellipse cx="644.85" cy="134.16" rx="1.61" ry="2.6" transform="rotate(26 644.85 134.16)" stroke="#000" stroke-width="1.1700000000000002" fill="#fff"/>
<ellipse cx="645.25" cy="133.66" rx="0.9" ry="1.4560000000000002" transform="rotate(26 645.25 133.66)" stroke="#000" stroke-width="1.2" fill="#000"/>
<path d="M703.6,152.4 Q699,147 693.8,147.5 Q686.5,148.5 685.4,153 Q683.5,158 684.7,162.2 Q686,165 689.6,165.7 L700,169" stroke="#000" stroke-width="1.8" fill="#fff" />
<path d="M686.8,167.8 Q686,173 689,176.2 Q693,180.4 698,180.4 Q704,180.3 709.2,177.6 Q714,174.5 714.8,171.3" stroke="#000" stroke-width="1.8" fill="#fff" />
<path d="M688.5,166.5 Q688,171 691,173.8 Q695,177.5 699.5,177.2 Q705,177 709.5,174.2 Q712.5,172 713.5,169.5" stroke="#000" stroke-width="1.1" fill="none" />
<ellipse cx="700" cy="162" rx="5" ry="7.7" transform="rotate(25 700 162)" stroke="#000" stroke-width="1.5" fill="#fff"/>
<ellipse cx="701.3" cy="161.6" rx="3.0" ry="5.2" transform="rotate(25 701.3 161.6)" stroke="#000" stroke-width="1.1" fill="#fff"/>
<path d="M704.5,155 Q709.5,157.5 711.5,162" stroke="#000" stroke-width="2.2" fill="none" />
<path d="M693,168.5 L693.5,172 L698.5,174 L703,172.5 L703,169" stroke="#000" stroke-width="1.0" fill="none" />
<line x1="703" y1="162.2" x2="729" y2="173.2" stroke="#000" stroke-width="0.9"/>
<line x1="742.8" y1="179.7" x2="783" y2="198.3" stroke="#000" stroke-width="0.9"/>
<path d="M737.01,180.88 L729.51,177.48 A1.98,3.60 24.4 0 1 732.49,170.92 L739.99,174.32" stroke="#000" stroke-width="1.0" fill="#fff" />
<ellipse cx="738.5" cy="177.6" rx="1.98" ry="3.6" transform="rotate(24.4 738.5 177.6)" stroke="#000" stroke-width="1.0" fill="#fff"/>
<path d="M741.67,182.71 L738.17,181.11 A1.76,3.20 24.6 0 1 740.83,175.29 L744.33,176.89" stroke="#000" stroke-width="1.0" fill="#fff" />
<ellipse cx="743" cy="179.8" rx="1.76" ry="3.2" transform="rotate(24.6 743 179.8)" stroke="#000" stroke-width="1.0" fill="#fff"/>
<ellipse cx="743.3" cy="180" rx="1.4" ry="2.0" transform="rotate(25 743.3 180)" stroke="#000" stroke-width="0.8" fill="none"/>
<path d="M805.20,211.71 L781.94,200.87 A1.25,2.50 25.0 0 1 784.06,196.33 L807.32,207.18" stroke="#000" stroke-width="1.1" fill="#fff" />
<line x1="784.24" y1="196.42" x2="783.21" y2="201.46" stroke="#000" stroke-width="0.75"/>
<line x1="785.69" y1="197.1" x2="784.66" y2="202.13" stroke="#000" stroke-width="0.75"/>
<line x1="787.14" y1="197.77" x2="786.11" y2="202.81" stroke="#000" stroke-width="0.75"/>
<line x1="788.59" y1="198.45" x2="787.56" y2="203.49" stroke="#000" stroke-width="0.75"/>
<line x1="790.04" y1="199.12" x2="789.01" y2="204.16" stroke="#000" stroke-width="0.75"/>
<line x1="791.49" y1="199.8" x2="790.46" y2="204.84" stroke="#000" stroke-width="0.75"/>
<line x1="792.94" y1="200.48" x2="791.91" y2="205.52" stroke="#000" stroke-width="0.75"/>
<line x1="794.39" y1="201.15" x2="793.36" y2="206.19" stroke="#000" stroke-width="0.75"/>
<line x1="795.84" y1="201.83" x2="794.81" y2="206.87" stroke="#000" stroke-width="0.75"/>
<line x1="797.29" y1="202.51" x2="796.26" y2="207.54" stroke="#000" stroke-width="0.75"/>
<line x1="798.74" y1="203.18" x2="797.71" y2="208.22" stroke="#000" stroke-width="0.75"/>
<line x1="800.19" y1="203.86" x2="799.16" y2="208.9" stroke="#000" stroke-width="0.75"/>
<path d="M806.70,204.69 L803.34,208.09 L802.90,212.85 L805.82,214.21 L809.18,210.81 L809.63,206.05 Z" stroke="#000" stroke-width="1.1" fill="#fff" />
<path d="M806.70,204.69 L803.34,208.09 L807.42,209.99 L810.78,206.59 Z" stroke="#000" stroke-width="0.8800000000000001" fill="#fff" />
<path d="M803.34,208.09 L802.90,212.85 L806.97,214.75 L807.42,209.99 Z" stroke="#000" stroke-width="0.8800000000000001" fill="#fff" />
<path d="M802.90,212.85 L805.82,214.21 L809.90,216.11 L806.97,214.75 Z" stroke="#000" stroke-width="0.8800000000000001" fill="#fff" />
<path d="M805.82,214.21 L809.18,210.81 L813.26,212.71 L809.90,216.11 Z" stroke="#000" stroke-width="0.8800000000000001" fill="#fff" />
<path d="M809.18,210.81 L809.63,206.05 L813.70,207.95 L813.26,212.71 Z" stroke="#000" stroke-width="0.8800000000000001" fill="#fff" />
<path d="M809.63,206.05 L806.70,204.69 L810.78,206.59 L813.70,207.95 Z" stroke="#000" stroke-width="0.8800000000000001" fill="#fff" />
<path d="M810.78,206.59 L807.42,209.99 L806.97,214.75 L809.90,216.11 L813.26,212.71 L813.70,207.95 Z" stroke="#000" stroke-width="1.1" fill="#fff" />
<path d="M701.5,181 L719,225" stroke="#000" stroke-width="2.0" fill="none" />
<path d="M703.8,180.5 L721,224" stroke="#000" stroke-width="0.9" fill="none" />
<path d="M710,178.3 L728.8,223" stroke="#000" stroke-width="2.0" fill="none" />
<path d="M708,179.2 L726.5,223.5" stroke="#000" stroke-width="0.9" fill="none" />
<path d="M716,224.5 L716,236 Q722,241.5 732,238 Q740,235 741.5,230 L737.5,221.5 Q733,217 725.5,219 Q718,221 716,224.5 Z" stroke="#000" stroke-width="1.4" fill="#fff" />
<path d="M716,224.5 Q720,229.5 729,227.2 Q736.5,225 737.5,221.5" stroke="#000" stroke-width="1.1" fill="none" />
<ellipse cx="724.3" cy="223.2" rx="5.6" ry="3.0" transform="rotate(-16 724.3 223.2)" stroke="#000" stroke-width="1.0" fill="none"/>
<path d="M716.3,229.5 Q721,234.5 730,232 Q738,229.5 739.5,226" stroke="#000" stroke-width="0.9" fill="none" />
<path d="M716,236.7 L727,273 L758.5,266 L745.7,231 Q744,233.5 741.5,230 Q738,236 731,238.2 Q722,241 716,236.7 Z" stroke="#000" stroke-width="1.4" fill="#fff" />
<path d="M718,239.5 Q723,243.5 732.5,241 Q741.5,238.5 746,233.5" stroke="#000" stroke-width="1.0" fill="none" />
<path d="M719.2,245.0 Q733.2,244.6 748.3,238.5" stroke="#000" stroke-width="0.75" fill="none" />
<path d="M719.8,246.8 Q733.8,246.3 748.9,240.2" stroke="#000" stroke-width="0.75" fill="none" />
<path d="M720.3,248.7 Q734.4,248.1 749.5,242.0" stroke="#000" stroke-width="0.75" fill="none" />
<path d="M720.9,250.5 Q735.0,249.9 750.2,243.8" stroke="#000" stroke-width="0.75" fill="none" />
<path d="M721.5,252.3 Q735.6,251.7 750.8,245.5" stroke="#000" stroke-width="0.75" fill="none" />
<path d="M722.0,254.2 Q736.2,253.5 751.4,247.2" stroke="#000" stroke-width="0.75" fill="none" />
<path d="M722.6,256.0 Q736.8,255.3 752.0,249.0" stroke="#000" stroke-width="0.75" fill="none" />
<path d="M723.2,257.8 Q737.4,257.1 752.7,250.8" stroke="#000" stroke-width="0.75" fill="none" />
<path d="M723.7,259.7 Q738.0,258.9 753.3,252.5" stroke="#000" stroke-width="0.75" fill="none" />
<path d="M724.3,261.5 Q738.6,260.7 753.9,254.2" stroke="#000" stroke-width="0.75" fill="none" />
<path d="M724.9,263.3 Q739.2,262.5 754.5,256.0" stroke="#000" stroke-width="0.75" fill="none" />
<path d="M725.4,265.2 Q739.8,264.3 755.2,257.8" stroke="#000" stroke-width="0.75" fill="none" />
<path d="M726.0,267.0 Q740.4,266.1 755.8,259.5" stroke="#000" stroke-width="0.75" fill="none" />
<path d="M726.6,268.8 Q741.0,267.8 756.4,261.2" stroke="#000" stroke-width="0.75" fill="none" />
<path d="M727.1,270.7 Q741.6,269.6 757.0,263.0" stroke="#000" stroke-width="0.75" fill="none" />
<path d="M720.7,266.5 L720.7,274 Q723,281 730,283.5 Q738,286 748,283.5 Q760,280 765,272 Q767,268 766.8,262 L765.8,253.5 Q764,250.5 759,250.5 L753,251.5" stroke="#000" stroke-width="1.8" fill="#fff" />
<path d="M720.7,266.5 Q722.5,270 727,271.8 Q734,274.5 742,273.8 Q750,272.5 757,267.5 Q763,263.5 765.9,258.5 L765.8,253.5" stroke="#000" stroke-width="1.3" fill="none" />
<path d="M720.7,266.5 Q721.5,263.5 724.5,262" stroke="#000" stroke-width="1.3" fill="none" />
<path d="M739.5,274 L741.9,285 M748,272.3 L745,276.5 L748.5,284" stroke="#000" stroke-width="1.0" fill="none" />
<path d="M735,287.6 L742,301 Q750,306 759,302.5 Q768,299 770.7,293.3 L767.8,280" stroke="#000" stroke-width="1.4" fill="#fff" />
<path d="M736,289.5 Q744,294.5 755,291.5 Q764.5,288.5 768.5,283.5" stroke="#000" stroke-width="1.0" fill="none" />
<path d="M737.5,292.5 Q745.5,297.5 756,294.5 Q765.5,291.5 769.3,286.5" stroke="#000" stroke-width="1.0" fill="none" />
<path d="M735,287.6 Q738,288.5 742,288.2" stroke="#000" stroke-width="1.6" fill="none" />
<path d="M745.7,301 L753.4,312.5 Q758,316.5 763,315.4 Q768,313.5 769.7,308.7 L770.7,297.2" stroke="#000" stroke-width="1.6" fill="#fff" />
<ellipse cx="764" cy="306.8" rx="3.5" ry="5.0" transform="rotate(20 764 306.8)" stroke="#000" stroke-width="1.0" fill="none"/>
<ellipse cx="764.3" cy="307" rx="1.8" ry="2.8" transform="rotate(20 764.3 307)" stroke="#000" stroke-width="0.8" fill="none"/>
<path d="M753,305 L757,313 M756.5,304 L760,312" stroke="#000" stroke-width="0.7" fill="none" />
<line x1="770" y1="309" x2="783" y2="316" stroke="#000" stroke-width="0.9" stroke-dasharray="4 2"/>
<path d="M809,322 L788,312.6 Q783.5,313.5 783.3,318 Q783.6,321.5 786,322.5 L805,331.7" stroke="#000" stroke-width="1.1" fill="none" stroke-dasharray="5 2.5"/>
<ellipse cx="807.3" cy="327" rx="2.6" ry="4.6" transform="rotate(25 807.3 327)" stroke="#000" stroke-width="1.0" fill="none"/>
<path d="M765.9,279 Q771,277 774.5,278 Q779,279.3 782.2,281.8 L797.5,291.4 Q812,299 830,304.9 Q845,308.8 860,311.5 Q874,314.5 885,317.6 L908,324.3 L925,330.5" stroke="#000" stroke-width="1.6" fill="none" />
<path d="M770.7,286.6 Q776,286.5 780.3,287.6 Q785.5,289.5 790,292.4 Q808,303.5 830,310.6 Q846,315 860,317.6 Q872,320.3 883,323.4 L906,330 L920,335.6" stroke="#000" stroke-width="1.6" fill="none" />
<line x1="775" y1="279" x2="773.8" y2="286" stroke="#000" stroke-width="0.7"/>
<line x1="778" y1="280.5" x2="776.8" y2="287.5" stroke="#000" stroke-width="0.7"/>
<line x1="781" y1="282.5" x2="779.8" y2="289.5" stroke="#000" stroke-width="0.7"/>
<path d="M791,289.5 L795,296.5 M794,291 L801,297 M797,292.6 L798,298.5" stroke="#000" stroke-width="0.7" fill="none" />
<path d="M881,317.5 L879.5,323 M884,318 L882.5,324 M887,319 L885.5,324.8 M880,320 L887,321.5" stroke="#000" stroke-width="0.7" fill="none" />
<path d="M903,324 L901,329.5 M907,325 L912,332 M905,327.5 L910,327" stroke="#000" stroke-width="0.7" fill="none" />
<path d="M969.53,377.93 L922.33,350.33 A9.36,14.40 30.3 0 1 936.87,325.47 L984.07,353.07" stroke="#000" stroke-width="1.7" fill="#fff" />
<ellipse cx="976.8" cy="365.5" rx="9.36" ry="14.4" transform="rotate(30.3 976.8 365.5)" stroke="#000" stroke-width="1.7" fill="#fff"/>
<path d="M926.22,352.60 A9.36,14.40 30.3 0 1 940.75,327.74" stroke="#000" stroke-width="0.9" fill="none" />
<path d="M941.55,330.99 L953.64,338.05 M939.30,331.87 L951.38,338.94 M937.46,332.99 L949.54,340.06 M935.87,334.27 L947.96,341.34 M934.49,335.66 L946.57,342.73 M933.26,337.15 L945.35,344.21 M932.19,338.72 L944.27,345.79 M931.26,340.37 L943.34,347.44 M930.47,342.11 L942.55,349.18 M929.83,343.94 L941.91,351.01 M929.36,345.87 L941.45,352.94 M929.11,347.93 L941.20,354.99 M929.16,350.16 L941.25,357.22 M929.74,352.69 L941.83,359.76" stroke="#000" stroke-width="0.75" fill="none" stroke-dasharray="2.2 0.9" stroke-linecap="butt"/>
<path d="M957.09,340.07 L969.17,347.14 M954.84,340.96 L966.92,348.02 M952.99,342.08 L965.08,349.15 M951.41,343.36 L963.50,350.42 M950.02,344.75 L962.11,351.81 M948.80,346.23 L960.89,353.30 M947.73,347.80 L959.81,354.87 M946.79,349.46 L958.88,356.53 M946.00,351.20 L958.09,358.27 M945.37,353.03 L957.45,360.09 M944.90,354.96 L956.99,362.02 M944.65,357.01 L956.74,364.08 M944.70,359.24 L956.79,366.31 M945.28,361.78 L957.36,368.85" stroke="#000" stroke-width="0.75" fill="none" stroke-dasharray="2.2 0.9" stroke-linecap="butt"/>
<path d="M932.69,356.39 A9.36,14.40 30.3 0 1 947.23,331.53" stroke="#000" stroke-width="0.7" fill="none" />
<path d="M944.78,363.46 A9.36,14.40 30.3 0 1 959.31,338.59" stroke="#000" stroke-width="0.7" fill="none" />
<path d="M948.23,365.47 A9.36,14.40 30.3 0 1 962.77,340.61" stroke="#000" stroke-width="0.7" fill="none" />
<path d="M960.31,372.54 A9.36,14.40 30.3 0 1 974.85,347.68" stroke="#000" stroke-width="0.7" fill="none" />
<ellipse cx="976.8" cy="365.5" rx="9.360000000000001" ry="14.4" transform="rotate(30.31678024760402 976.8 365.5)" stroke="#000" stroke-width="1.7" fill="#fff"/>
<ellipse cx="977.0999999999999" cy="365.5" rx="6.74" ry="10.66" transform="rotate(30.3 977.0999999999999 365.5)" stroke="#000" stroke-width="1.0" fill="none" stroke-dasharray="1.6 1.2"/>
<ellipse cx="978.6" cy="365.6" rx="3.2" ry="3.8" transform="rotate(20 978.6 365.6)" stroke="#000" stroke-width="1.0" fill="none"/>
<ellipse cx="978.8" cy="365.7" rx="1.5" ry="1.9" transform="rotate(20 978.8 365.7)" stroke="#000" stroke-width="0.9" fill="none"/>
<path d="M880.8,278 A10.2,12 18 1 0 886.5,277.2" stroke="#000" stroke-width="4.0" fill="none"/>
<path d="M880.8,278 A10.2,12 18 1 0 886.5,277.2" stroke="#fff" stroke-width="1.3" fill="none"/>
<ellipse cx="879.5" cy="280.2" rx="1.6" ry="1.6" transform="rotate(0 879.5 280.2)" stroke="#000" stroke-width="1.0" fill="#fff"/>
<line x1="658" y1="203" x2="687.5" y2="186.7" stroke="#000" stroke-width="0.9"/>
<path d="M632,210.5 L632.3,216 Q636,224 648.5,225 Q661,224 666,217.5 L666.5,210.5" stroke="#000" stroke-width="1.7" fill="#fff" />
<ellipse cx="649.2" cy="209.5" rx="17.2" ry="10.6" transform="rotate(-6 649.2 209.5)" stroke="#000" stroke-width="1.7" fill="#fff"/>
<path d="M632.8,213.5 Q637,221.5 648.5,222.3 Q661,221.5 665.8,214.5" stroke="#000" stroke-width="1.0" fill="none" />
<ellipse cx="648.8" cy="208.8" rx="10.2" ry="6.0" transform="rotate(-6 648.8 208.8)" stroke="#000" stroke-width="1.4" fill="#fff"/>
<path d="M640,211.5 Q643,205.5 652,205.2 Q656.5,205.8 658.5,208" stroke="#000" stroke-width="1.0" fill="none" />
<path d="M657,200.5 L657.8,205.5 L665,205" stroke="#000" stroke-width="1.3" fill="none" />
<defs>
<pattern id="xh" width="4.4" height="4.4" patternUnits="userSpaceOnUse" patternTransform="rotate(12)">
<rect width="5" height="5" fill="#fff"/><path d="M0,0 L4.4,4.4 M4.4,0 L0,4.4" stroke="#000" stroke-width="0.85"/></pattern>
<pattern id="xh2" width="3.4" height="3.4" patternUnits="userSpaceOnUse" patternTransform="rotate(20)">
<rect width="3.5" height="3.5" fill="#fff"/><path d="M0,0 L3.4,3.4 M3.4,0 L0,3.4" stroke="#000" stroke-width="0.62"/></pattern>
<pattern id="dots" width="2.4" height="2.4" patternUnits="userSpaceOnUse" patternTransform="rotate(25)">
<rect x="0.6" y="0.6" width="1" height="1" fill="#000"/></pattern>
</defs>
<path d="M182.8,465 L199,454.6" stroke="#000" stroke-width="0.9" fill="none" />
<path d="M159.6,488 Q170,474 182.8,465" stroke="#000" stroke-width="0.9" fill="none" stroke-dasharray="9 3 2 3"/>
<path d="M199.6,470.4 L205.5,466 L206.5,468 L200.5,472 Z" stroke="#000" stroke-width="0.8" fill="none" />
<line x1="192.6" y1="479" x2="201" y2="475" stroke="#000" stroke-width="0.9"/>
<line x1="212.2" y1="467.2" x2="250" y2="446.2" stroke="#000" stroke-width="0.9"/>
<line x1="208" y1="440.6" x2="208" y2="500" stroke="#000" stroke-width="1.6"/>
<line x1="208" y1="505" x2="208" y2="512" stroke="#000" stroke-width="1.0"/>
<path d="M193.3,430.8 L216.4,416.8 Q222,415.5 228.3,419 L229.7,423 L208,438.5 Z" stroke="#000" stroke-width="1.3" fill="url(#xh2)" />
<path d="M193.3,430.8 L194,432.8 L208.3,440.5 L208,438.5" stroke="#000" stroke-width="1.1" fill="#fff" />
<path d="M208.3,440.5 L229.7,425" stroke="#000" stroke-width="1.1" fill="none" />
<ellipse cx="208" cy="432.5" rx="2.6" ry="1.6" transform="rotate(-25 208 432.5)" stroke="#000" stroke-width="0.8" fill="#fff"/>
<path d="M222,416.5 Q233,417 239.5,422 Q244.5,427.5 244,432.5" stroke="#000" stroke-width="1.3" fill="none" />
<path d="M229.7,423.5 Q236,424.5 239.3,428.5 Q241.5,432 241.3,435" stroke="#000" stroke-width="1.1" fill="none" />
<path d="M244,434 Q243,445 236,451 L217.8,460.7" stroke="#000" stroke-width="1.2" fill="none" stroke-dasharray="5 2"/>
<path d="M241,437 Q240,445 234.5,449 L217,458" stroke="#000" stroke-width="1.0" fill="none" stroke-dasharray="6 2.5"/>
<path d="M220,445.5 Q224.5,441.5 226.2,437" stroke="#000" stroke-width="1.0" fill="none" />
<line x1="242.3" y1="433.5" x2="244.5" y2="434" stroke="#000" stroke-width="1.6"/>
<ellipse cx="254.2" cy="442.7" rx="4.05" ry="5.4" transform="rotate(-28 254.2 442.7)" stroke="#000" stroke-width="1.1" fill="#fff"/>
<ellipse cx="254.7" cy="442.7" rx="1.82" ry="2.43" transform="rotate(-28 254.7 442.7)" stroke="#000" stroke-width="0.9900000000000001" fill="#fff"/>
<ellipse cx="253.14" cy="443.26" rx="4.05" ry="5.4" transform="rotate(-28 253.14 443.26)" stroke="#000" stroke-width="0.77" fill="none"/>
<path d="M269.39,439.82 L268.96,434.55 L264.83,431.25 L261.12,433.23 L261.55,438.49 L265.68,441.79 Z" stroke="#000" stroke-width="1.3" fill="#fff" />
<path d="M269.39,439.82 L268.96,434.55 L272.05,432.91 L272.48,438.17 Z" stroke="#000" stroke-width="1.04" fill="#fff" />
<path d="M268.96,434.55 L264.83,431.25 L267.92,429.61 L272.05,432.91 Z" stroke="#000" stroke-width="1.04" fill="#fff" />
<path d="M264.83,431.25 L261.12,433.23 L264.21,431.58 L267.92,429.61 Z" stroke="#000" stroke-width="1.04" fill="#fff" />
<path d="M261.12,433.23 L261.55,438.49 L264.64,436.85 L264.21,431.58 Z" stroke="#000" stroke-width="1.04" fill="#fff" />
<path d="M261.55,438.49 L265.68,441.79 L268.77,440.15 L264.64,436.85 Z" stroke="#000" stroke-width="1.04" fill="#fff" />
<path d="M265.68,441.79 L269.39,439.82 L272.48,438.17 L268.77,440.15 Z" stroke="#000" stroke-width="1.04" fill="#fff" />
<path d="M272.48,438.17 L272.05,432.91 L267.92,429.61 L264.21,431.58 L264.64,436.85 L268.77,440.15 Z" stroke="#000" stroke-width="1.3" fill="#fff" />
<ellipse cx="268.35" cy="434.88" rx="2.1" ry="2.8" transform="rotate(-28 268.35 434.88)" stroke="#000" stroke-width="1.1700000000000002" fill="#fff"/>
<ellipse cx="268.75" cy="434.38" rx="1.18" ry="1.568" transform="rotate(-28 268.75 434.38)" stroke="#000" stroke-width="1.2" fill="#000"/>
<ellipse cx="207.7" cy="502.0" rx="5.6" ry="3.0" transform="rotate(0 207.7 502.0)" stroke="#000" stroke-width="1.0" fill="#fff"/>
<ellipse cx="207.7" cy="501" rx="5.6" ry="3.0" transform="rotate(0 207.7 501)" stroke="#000" stroke-width="1.1" fill="#fff"/>
<ellipse cx="207.7" cy="500.8" rx="2.4" ry="1.1" transform="rotate(0 207.7 500.8)" stroke="#000" stroke-width="1.0" fill="none"/>
<path d="M206.2,512.5 L206.2,524 M209.8,512.5 L209.8,524" stroke="#000" stroke-width="1.0" fill="none" />
<ellipse cx="208" cy="512.5" rx="1.8" ry="0.8" transform="rotate(0 208 512.5)" stroke="#000" stroke-width="0.8" fill="#fff"/>
<line x1="206.2" y1="514.5" x2="209.8" y2="513.9" stroke="#000" stroke-width="0.5"/>
<line x1="206.2" y1="516.1" x2="209.8" y2="515.5" stroke="#000" stroke-width="0.5"/>
<line x1="206.2" y1="517.7" x2="209.8" y2="517.1" stroke="#000" stroke-width="0.5"/>
<line x1="206.2" y1="519.3" x2="209.8" y2="518.6999999999999" stroke="#000" stroke-width="0.5"/>
<line x1="206.2" y1="520.9" x2="209.8" y2="520.3" stroke="#000" stroke-width="0.5"/>
<path d="M203.40,525.50 L205.60,523.20 L210.40,523.20 L212.60,525.50 L210.40,528.00 L205.60,528.00 Z" stroke="#000" stroke-width="1.0" fill="#fff" />
<path d="M203.4,525.5 L203.4,527.5 L205.6,530 L210.4,530 L212.6,527.5 L212.6,525.5 M205.6,528 L205.6,530 M210.4,528 L210.4,530" stroke="#000" stroke-width="0.9" fill="none" />
<line x1="92" y1="534.8" x2="122.4" y2="552.6" stroke="#000" stroke-width="0.9"/>
<path d="M74.28,529.34 L77.18,526.78 L77.79,522.97 L75.51,521.71 L72.62,524.27 L72.00,528.09 Z" stroke="#000" stroke-width="1.0" fill="#fff" />
<path d="M74.28,529.34 L77.18,526.78 L79.98,528.33 L77.09,530.89 Z" stroke="#000" stroke-width="0.8" fill="#fff" />
<path d="M77.18,526.78 L77.79,522.97 L80.60,524.51 L79.98,528.33 Z" stroke="#000" stroke-width="0.8" fill="#fff" />
<path d="M77.79,522.97 L75.51,521.71 L78.32,523.26 L80.60,524.51 Z" stroke="#000" stroke-width="0.8" fill="#fff" />
<path d="M75.51,521.71 L72.62,524.27 L75.42,525.82 L78.32,523.26 Z" stroke="#000" stroke-width="0.8" fill="#fff" />
<path d="M72.62,524.27 L72.00,528.09 L74.81,529.63 L75.42,525.82 Z" stroke="#000" stroke-width="0.8" fill="#fff" />
<path d="M72.00,528.09 L74.28,529.34 L77.09,530.89 L74.81,529.63 Z" stroke="#000" stroke-width="0.8" fill="#fff" />
<path d="M77.09,530.89 L79.98,528.33 L80.60,524.51 L78.32,523.26 L75.42,525.82 L74.81,529.63 Z" stroke="#000" stroke-width="1.0" fill="#fff" />
<path d="M92.18,536.99 L76.88,528.56 A0.85,1.70 28.9 0 1 78.52,525.58 L93.82,534.01" stroke="#000" stroke-width="1.0" fill="#fff" />
<ellipse cx="93" cy="535.5" rx="0.85" ry="1.7" transform="rotate(28.9 93 535.5)" stroke="#000" stroke-width="1.0" fill="#fff"/>
<line x1="92.0" y1="536.89" x2="92.59" y2="533.34" stroke="#000" stroke-width="0.75"/>
<line x1="90.6" y1="536.12" x2="91.19" y2="532.56" stroke="#000" stroke-width="0.75"/>
<line x1="89.2" y1="535.35" x2="89.79" y2="531.79" stroke="#000" stroke-width="0.75"/>
<line x1="87.8" y1="534.58" x2="88.39" y2="531.02" stroke="#000" stroke-width="0.75"/>
<line x1="86.4" y1="533.8" x2="86.99" y2="530.25" stroke="#000" stroke-width="0.75"/>
<line x1="85.0" y1="533.03" x2="85.59" y2="529.48" stroke="#000" stroke-width="0.75"/>
<line x1="83.6" y1="532.26" x2="84.19" y2="528.7" stroke="#000" stroke-width="0.75"/>
<line x1="82.19" y1="531.49" x2="82.78" y2="527.93" stroke="#000" stroke-width="0.75"/>
<line x1="80.79" y1="530.72" x2="81.38" y2="527.16" stroke="#000" stroke-width="0.75"/>
<ellipse cx="103.8" cy="541.4" rx="3.74" ry="5.2" transform="rotate(30 103.8 541.4)" stroke="#000" stroke-width="1.1" fill="#fff"/>
<ellipse cx="104.3" cy="541.4" rx="1.68" ry="2.3400000000000003" transform="rotate(30 104.3 541.4)" stroke="#000" stroke-width="0.9900000000000001" fill="#fff"/>
<ellipse cx="102.76" cy="540.8" rx="3.74" ry="5.2" transform="rotate(30 102.76 540.8)" stroke="#000" stroke-width="0.77" fill="none"/>
<line x1="138.7" y1="561.8" x2="170" y2="578.8" stroke="#000" stroke-width="0.9"/>
<path d="M164.7,513.2 L165,517 L139.5,558.5 L137.8,554.5 Z" stroke="#000" stroke-width="1.1" fill="#fff" />
<path d="M150.3,502.6 L164.7,513.2 L137.8,554.5 L121.5,544 Z" stroke="#000" stroke-width="1.4" fill="url(#xh)" />
<path d="M121.5,544 L110,555.5 Q100,564 98.4,566 Q95.5,570 96.5,574.7 Q97.5,579 101.3,582.3 Q106,586 111.9,587.1 Q115,588.5 117.6,588.1 Q123.5,586.5 126.3,583.3 Q129,577 131,571.8 L139.5,558.5 L137.8,554.5 Z" stroke="#000" stroke-width="1.5" fill="#fff" />
<path d="M111,556 L100,566.5 Q97.5,571 98.5,575 Q100,580 105,583.5 L109.5,585.5 Q106,578 110,569 Q114,561 121,555 L123,546 Z" fill="url(#xh2)" stroke="none"/>
<path d="M121.5,544 L137.8,554.5" stroke="#000" stroke-width="1.0" fill="none" />
<path d="M122,548 L133,555.5 M118,551.5 L126,557" stroke="#000" stroke-width="0.8" fill="none" />
<ellipse cx="120.5" cy="578" rx="6.6" ry="11.4" transform="rotate(33 120.5 578)" stroke="#000" stroke-width="1.5" fill="#fff"/>
<ellipse cx="121" cy="578.3" rx="3.6" ry="8.2" transform="rotate(33 121 578.3)" stroke="#000" stroke-width="1.5" fill="#fff"/>
<path d="M165.14,489.72 L189.14,479.52 A1.35,2.70 157.0 0 1 191.26,484.48 L167.26,494.68" stroke="#000" stroke-width="1.1" fill="#fff" />
<path d="M167.6,491.6 L189.1,482.5" stroke="url(#dots)" stroke-width="3.6" fill="none"/>
<path d="M167.6,491.6 L189.1,482.5" stroke="#000" stroke-width="2.2" fill="none" stroke-dasharray="1 1.6" opacity="0.55"/>
<line x1="152.6" y1="491.6" x2="177.8" y2="502.9" stroke="#000" stroke-width="10.4" stroke-linecap="round"/>
<line x1="152.6" y1="491.6" x2="177.8" y2="502.9" stroke="#fff" stroke-width="6.8" stroke-linecap="round"/>
<line x1="155" y1="492.7" x2="175.5" y2="501.8" stroke="#000" stroke-width="3.6" stroke-linecap="round"/>
<line x1="155" y1="492.7" x2="175.5" y2="501.8" stroke="#fff" stroke-width="1.5" stroke-linecap="round"/>
<ellipse cx="155.4" cy="571.4" rx="3.6" ry="5.0" transform="rotate(30 155.4 571.4)" stroke="#000" stroke-width="1.1" fill="#fff"/>
<ellipse cx="155.9" cy="571.4" rx="1.62" ry="2.25" transform="rotate(30 155.9 571.4)" stroke="#000" stroke-width="0.9900000000000001" fill="#fff"/>
<ellipse cx="154.36" cy="570.8" rx="3.6" ry="5.0" transform="rotate(30 154.36 570.8)" stroke="#000" stroke-width="0.77" fill="none"/>
<path d="M170.60,584.50 L173.99,581.86 L174.59,577.60 L171.80,576.00 L168.41,578.64 L167.81,582.90 Z" stroke="#000" stroke-width="1.3" fill="#fff" />
<path d="M170.60,584.50 L173.99,581.86 L176.59,583.36 L173.20,586.00 Z" stroke="#000" stroke-width="1.04" fill="#fff" />
<path d="M173.99,581.86 L174.59,577.60 L177.19,579.10 L176.59,583.36 Z" stroke="#000" stroke-width="1.04" fill="#fff" />
<path d="M174.59,577.60 L171.80,576.00 L174.40,577.50 L177.19,579.10 Z" stroke="#000" stroke-width="1.04" fill="#fff" />
<path d="M171.80,576.00 L168.41,578.64 L171.01,580.14 L174.40,577.50 Z" stroke="#000" stroke-width="1.04" fill="#fff" />
<path d="M168.41,578.64 L167.81,582.90 L170.41,584.40 L171.01,580.14 Z" stroke="#000" stroke-width="1.04" fill="#fff" />
<path d="M167.81,582.90 L170.60,584.50 L173.20,586.00 L170.41,584.40 Z" stroke="#000" stroke-width="1.04" fill="#fff" />
<path d="M173.20,586.00 L176.59,583.36 L177.19,579.10 L174.40,577.50 L171.01,580.14 L170.41,584.40 Z" stroke="#000" stroke-width="1.3" fill="#fff" />
<ellipse cx="173.8" cy="581.75" rx="1.61" ry="2.3" transform="rotate(30 173.8 581.75)" stroke="#000" stroke-width="1.1700000000000002" fill="#fff"/>
<ellipse cx="174.2" cy="581.25" rx="0.9" ry="1.288" transform="rotate(30 174.2 581.25)" stroke="#000" stroke-width="1.2" fill="#000"/>
<g transform="translate(157.5,73.5)">
<path d="M159.6,488 Q170,474 182.8,465" stroke="#000" stroke-width="0.9" fill="none" stroke-dasharray="9 3 2 3"/>
<path d="M182.8,465 L199,454.6" stroke="#000" stroke-width="0.9" fill="none" />
<path d="M199.6,470.4 L205.5,466 L206.5,468 L200.5,472 Z" stroke="#000" stroke-width="0.8" fill="none" />
<line x1="192.6" y1="479" x2="201" y2="475" stroke="#000" stroke-width="0.9"/>
</g>
<line x1="364" y1="424" x2="364" y2="438" stroke="#000" stroke-width="0.9"/>
<line x1="364" y1="450" x2="364" y2="574" stroke="#000" stroke-width="1.0"/>
<line x1="364" y1="578" x2="364" y2="586" stroke="#000" stroke-width="1.0"/>
<line x1="369" y1="540.5" x2="419" y2="513.5" stroke="#000" stroke-width="0.9"/>
<g transform="translate(156.2,72)">
<path d="M193.3,430.8 L216.4,416.8 Q222,415.5 228.3,419 L229.7,423 L208,438.5 Z" stroke="#000" stroke-width="1.3" fill="url(#xh2)" />
<path d="M193.3,430.8 L194,432.8 L208.3,440.5 L208,438.5" stroke="#000" stroke-width="1.1" fill="#fff" />
<path d="M208.3,440.5 L229.7,425" stroke="#000" stroke-width="1.1" fill="none" />
<ellipse cx="208" cy="432.5" rx="2.6" ry="1.6" transform="rotate(-25 208 432.5)" stroke="#000" stroke-width="0.8" fill="#fff"/>
<path d="M222,416.5 Q233,417 239.5,422 Q244.5,427.5 244,432.5" stroke="#000" stroke-width="1.3" fill="none" />
<path d="M229.7,423.5 Q236,424.5 239.3,428.5 Q241.5,432 241.3,435" stroke="#000" stroke-width="1.1" fill="none" />
<path d="M244,434 Q243,445 236,451 L217.8,460.7" stroke="#000" stroke-width="1.2" fill="none" stroke-dasharray="5 2"/>
<path d="M241,437 Q240,445 234.5,449 L217,458" stroke="#000" stroke-width="1.0" fill="none" stroke-dasharray="6 2.5"/>
<path d="M220,445.5 Q224.5,441.5 226.2,437" stroke="#000" stroke-width="1.0" fill="none" />
<line x1="242.3" y1="433.5" x2="244.5" y2="434" stroke="#000" stroke-width="1.6"/>
</g>
<ellipse cx="421" cy="512.6" rx="4.05" ry="5.4" transform="rotate(-28 421 512.6)" stroke="#000" stroke-width="1.1" fill="#fff"/>
<ellipse cx="421.5" cy="512.6" rx="1.82" ry="2.43" transform="rotate(-28 421.5 512.6)" stroke="#000" stroke-width="0.9900000000000001" fill="#fff"/>
<ellipse cx="419.94" cy="513.16" rx="4.05" ry="5.4" transform="rotate(-28 419.94 513.16)" stroke="#000" stroke-width="0.77" fill="none"/>
<path d="M438.29,508.92 L437.86,503.65 L433.73,500.35 L430.02,502.33 L430.45,507.59 L434.58,510.89 Z" stroke="#000" stroke-width="1.3" fill="#fff" />
<path d="M438.29,508.92 L437.86,503.65 L440.95,502.01 L441.38,507.27 Z" stroke="#000" stroke-width="1.04" fill="#fff" />
<path d="M437.86,503.65 L433.73,500.35 L436.82,498.71 L440.95,502.01 Z" stroke="#000" stroke-width="1.04" fill="#fff" />
<path d="M433.73,500.35 L430.02,502.33 L433.11,500.68 L436.82,498.71 Z" stroke="#000" stroke-width="1.04" fill="#fff" />
<path d="M430.02,502.33 L430.45,507.59 L433.54,505.95 L433.11,500.68 Z" stroke="#000" stroke-width="1.04" fill="#fff" />
<path d="M430.45,507.59 L434.58,510.89 L437.67,509.25 L433.54,505.95 Z" stroke="#000" stroke-width="1.04" fill="#fff" />
<path d="M434.58,510.89 L438.29,508.92 L441.38,507.27 L437.67,509.25 Z" stroke="#000" stroke-width="1.04" fill="#fff" />
<path d="M441.38,507.27 L440.95,502.01 L436.82,498.71 L433.11,500.68 L433.54,505.95 L437.67,509.25 Z" stroke="#000" stroke-width="1.3" fill="#fff" />
<ellipse cx="437.25" cy="503.98" rx="2.1" ry="2.8" transform="rotate(-28 437.25 503.98)" stroke="#000" stroke-width="1.1700000000000002" fill="#fff"/>
<ellipse cx="437.65" cy="503.48" rx="1.18" ry="1.568" transform="rotate(-28 437.65 503.48)" stroke="#000" stroke-width="1.2" fill="#000"/>
<ellipse cx="364.3" cy="575.5" rx="5.6" ry="3.0" transform="rotate(0 364.3 575.5)" stroke="#000" stroke-width="1.0" fill="#fff"/>
<ellipse cx="364.3" cy="574.5" rx="5.6" ry="3.0" transform="rotate(0 364.3 574.5)" stroke="#000" stroke-width="1.1" fill="#fff"/>
<ellipse cx="364.3" cy="574.3" rx="2.4" ry="1.1" transform="rotate(0 364.3 574.3)" stroke="#000" stroke-width="1.0" fill="none"/>
<path d="M362.5,587 L362.5,598 M366.1,587 L366.1,598" stroke="#000" stroke-width="1.0" fill="none" />
<ellipse cx="364.3" cy="587" rx="1.8" ry="0.8" transform="rotate(0 364.3 587)" stroke="#000" stroke-width="0.8" fill="#fff"/>
<line x1="362.5" y1="589.0" x2="366.1" y2="588.4" stroke="#000" stroke-width="0.5"/>
<line x1="362.5" y1="590.6" x2="366.1" y2="590.0" stroke="#000" stroke-width="0.5"/>
<line x1="362.5" y1="592.2" x2="366.1" y2="591.6" stroke="#000" stroke-width="0.5"/>
<line x1="362.5" y1="593.8" x2="366.1" y2="593.1999999999999" stroke="#000" stroke-width="0.5"/>
<line x1="362.5" y1="595.4" x2="366.1" y2="594.8" stroke="#000" stroke-width="0.5"/>
<path d="M359.70,599.50 L361.90,597.20 L366.70,597.20 L368.90,599.50 L366.70,602.00 L361.90,602.00 Z" stroke="#000" stroke-width="1.0" fill="#fff" />
<path d="M359.7,599.5 L359.7,601.5 L361.90000000000003,604 L366.7,604 L368.90000000000003,601.5 L368.90000000000003,599.5 M361.90000000000003,602 L361.90000000000003,604 M366.7,602 L366.7,604" stroke="#000" stroke-width="0.9" fill="none" />
<g transform="matrix(1.0474,-0.1055,0.0925,1.0027,104.243,89.926)">
<path d="M164.7,513.2 L165,517 L139.5,558.5 L137.8,554.5 Z" stroke="#000" stroke-width="1.1" fill="#fff" />
<path d="M150.3,502.6 L164.7,513.2 L137.8,554.5 L121.5,544 Z" stroke="#000" stroke-width="1.4" fill="url(#xh)" />
<path d="M121.5,544 L110,555.5 Q100,564 98.4,566 Q95.5,570 96.5,574.7 Q97.5,579 101.3,582.3 Q106,586 111.9,587.1 Q115,588.5 117.6,588.1 Q123.5,586.5 126.3,583.3 Q129,577 131,571.8 L139.5,558.5 L137.8,554.5 Z" stroke="#000" stroke-width="1.5" fill="#fff" />
<path d="M111,556 L100,566.5 Q97.5,571 98.5,575 Q100,580 105,583.5 L109.5,585.5 Q106,578 110,569 Q114,561 121,555 L123,546 Z" fill="url(#xh2)" stroke="none"/>
<path d="M121.5,544 L137.8,554.5" stroke="#000" stroke-width="1.0" fill="none" />
<path d="M122,548 L133,555.5 M118,551.5 L126,557" stroke="#000" stroke-width="0.8" fill="none" />
<ellipse cx="120.5" cy="578" rx="6.6" ry="11.4" transform="rotate(33 120.5 578)" stroke="#000" stroke-width="1.5" fill="#fff"/>
<ellipse cx="121" cy="578.3" rx="3.6" ry="8.2" transform="rotate(33 121 578.3)" stroke="#000" stroke-width="1.5" fill="#fff"/>
</g>
<g transform="translate(158.5,74.5)">
<path d="M165.14,489.72 L189.14,479.52 A1.35,2.70 157.0 0 1 191.26,484.48 L167.26,494.68" stroke="#000" stroke-width="1.1" fill="#fff" />
<path d="M167.6,491.6 L189.1,482.5" stroke="url(#dots)" stroke-width="3.6" fill="none"/>
<path d="M167.6,491.6 L189.1,482.5" stroke="#000" stroke-width="2.2" fill="none" stroke-dasharray="1 1.6" opacity="0.55"/>
<line x1="152.6" y1="491.6" x2="177.8" y2="502.9" stroke="#000" stroke-width="10.4" stroke-linecap="round"/>
<line x1="152.6" y1="491.6" x2="177.8" y2="502.9" stroke="#fff" stroke-width="6.8" stroke-linecap="round"/>
<line x1="155" y1="492.7" x2="175.5" y2="501.8" stroke="#000" stroke-width="3.6" stroke-linecap="round"/>
<line x1="155" y1="492.7" x2="175.5" y2="501.8" stroke="#fff" stroke-width="1.5" stroke-linecap="round"/>
</g>
<line x1="244" y1="607" x2="281" y2="628" stroke="#000" stroke-width="0.9"/>
<path d="M238.60,608.50 L241.99,605.86 L242.59,601.60 L239.80,600.00 L236.41,602.64 L235.81,606.90 Z" stroke="#000" stroke-width="1.3" fill="#fff" />
<path d="M238.60,608.50 L241.99,605.86 L244.59,607.36 L241.20,610.00 Z" stroke="#000" stroke-width="1.04" fill="#fff" />
<path d="M241.99,605.86 L242.59,601.60 L245.19,603.10 L244.59,607.36 Z" stroke="#000" stroke-width="1.04" fill="#fff" />
<path d="M242.59,601.60 L239.80,600.00 L242.40,601.50 L245.19,603.10 Z" stroke="#000" stroke-width="1.04" fill="#fff" />
<path d="M239.80,600.00 L236.41,602.64 L239.01,604.14 L242.40,601.50 Z" stroke="#000" stroke-width="1.04" fill="#fff" />
<path d="M236.41,602.64 L235.81,606.90 L238.41,608.40 L239.01,604.14 Z" stroke="#000" stroke-width="1.04" fill="#fff" />
<path d="M235.81,606.90 L238.60,608.50 L241.20,610.00 L238.41,608.40 Z" stroke="#000" stroke-width="1.04" fill="#fff" />
<path d="M241.20,610.00 L244.59,607.36 L245.19,603.10 L242.40,601.50 L239.01,604.14 L238.41,608.40 Z" stroke="#000" stroke-width="1.3" fill="#fff" />
<ellipse cx="241.8" cy="605.75" rx="1.61" ry="2.3" transform="rotate(30 241.8 605.75)" stroke="#000" stroke-width="1.1700000000000002" fill="#fff"/>
<ellipse cx="242.2" cy="605.25" rx="0.9" ry="1.288" transform="rotate(30 242.2 605.25)" stroke="#000" stroke-width="1.2" fill="#000"/>
<ellipse cx="264" cy="619.5" rx="3.6" ry="5.0" transform="rotate(30 264 619.5)" stroke="#000" stroke-width="1.1" fill="#fff"/>
<ellipse cx="264.5" cy="619.5" rx="1.62" ry="2.25" transform="rotate(30 264.5 619.5)" stroke="#000" stroke-width="0.9900000000000001" fill="#fff"/>
<ellipse cx="262.96" cy="618.9" rx="3.6" ry="5.0" transform="rotate(30 262.96 618.9)" stroke="#000" stroke-width="0.77" fill="none"/>
<line x1="298" y1="639" x2="328" y2="657" stroke="#000" stroke-width="0.9"/>
<ellipse cx="315.5" cy="649.5" rx="3.74" ry="5.2" transform="rotate(30 315.5 649.5)" stroke="#000" stroke-width="1.1" fill="#fff"/>
<ellipse cx="316.0" cy="649.5" rx="1.68" ry="2.3400000000000003" transform="rotate(30 316.0 649.5)" stroke="#000" stroke-width="0.9900000000000001" fill="#fff"/>
<ellipse cx="314.46" cy="648.9" rx="3.74" ry="5.2" transform="rotate(30 314.46 648.9)" stroke="#000" stroke-width="0.77" fill="none"/>
<path d="M340.27,666.08 L321.66,655.48 A0.85,1.70 29.7 0 1 323.34,652.52 L341.95,663.13" stroke="#000" stroke-width="1.0" fill="#fff" />
<line x1="323.52" y1="652.62" x2="322.87" y2="656.17" stroke="#000" stroke-width="0.75"/>
<line x1="324.91" y1="653.41" x2="324.26" y2="656.96" stroke="#000" stroke-width="0.75"/>
<line x1="326.3" y1="654.21" x2="325.65" y2="657.75" stroke="#000" stroke-width="0.75"/>
<line x1="327.69" y1="655.0" x2="327.04" y2="658.55" stroke="#000" stroke-width="0.75"/>
<line x1="329.08" y1="655.79" x2="328.43" y2="659.34" stroke="#000" stroke-width="0.75"/>
<line x1="330.47" y1="656.58" x2="329.82" y2="660.13" stroke="#000" stroke-width="0.75"/>
<line x1="331.86" y1="657.38" x2="331.21" y2="660.92" stroke="#000" stroke-width="0.75"/>
<line x1="333.25" y1="658.17" x2="332.6" y2="661.72" stroke="#000" stroke-width="0.75"/>
<line x1="334.64" y1="658.96" x2="333.99" y2="662.51" stroke="#000" stroke-width="0.75"/>
<line x1="336.03" y1="659.75" x2="335.38" y2="663.3" stroke="#000" stroke-width="0.75"/>
<line x1="337.42" y1="660.55" x2="336.77" y2="664.09" stroke="#000" stroke-width="0.75"/>
<path d="M341.78,660.80 L338.85,663.32 L338.18,667.12 L340.44,668.41 L343.37,665.90 L344.04,662.09 Z" stroke="#000" stroke-width="1.0" fill="#fff" />
<path d="M341.78,660.80 L338.85,663.32 L341.63,664.90 L344.56,662.39 Z" stroke="#000" stroke-width="0.8" fill="#fff" />
<path d="M338.85,663.32 L338.18,667.12 L340.96,668.71 L341.63,664.90 Z" stroke="#000" stroke-width="0.8" fill="#fff" />
<path d="M338.18,667.12 L340.44,668.41 L343.22,670.00 L340.96,668.71 Z" stroke="#000" stroke-width="0.8" fill="#fff" />
<path d="M340.44,668.41 L343.37,665.90 L346.15,667.48 L343.22,670.00 Z" stroke="#000" stroke-width="0.8" fill="#fff" />
<path d="M343.37,665.90 L344.04,662.09 L346.82,663.68 L346.15,667.48 Z" stroke="#000" stroke-width="0.8" fill="#fff" />
<path d="M344.04,662.09 L341.78,660.80 L344.56,662.39 L346.82,663.68 Z" stroke="#000" stroke-width="0.8" fill="#fff" />
<path d="M344.56,662.39 L341.63,664.90 L340.96,668.71 L343.22,670.00 L346.15,667.48 L346.82,663.68 Z" stroke="#000" stroke-width="1.0" fill="#fff" />
<path d="M274.3,281.8 L274.3,287 L277.3,289.6 L281.9,289.6 L284.9,287 L284.9,281.8" stroke="#000" stroke-width="1.3" fill="#fff" />
<ellipse cx="279.6" cy="281.4" rx="5.3" ry="3.0" transform="rotate(0 279.6 281.4)" stroke="#000" stroke-width="1.3" fill="#fff"/>
<ellipse cx="279.6" cy="280.8" rx="2.6" ry="1.3" transform="rotate(0 279.6 280.8)" stroke="#000" stroke-width="1.0" fill="none"/>
<path d="M274.3,284.4 L277.3,286.4 L281.9,286.4 L284.9,284.4 M277.3,286.4 L277.3,289.6 M281.9,286.4 L281.9,289.6" stroke="#000" stroke-width="1.0" fill="none" />
<path d="M359.1,340.8 L359.1,346 L362.1,348.6 L366.7,348.6 L369.7,346 L369.7,340.8" stroke="#000" stroke-width="1.3" fill="#fff" />
<ellipse cx="364.40000000000003" cy="340.4" rx="5.3" ry="3.0" transform="rotate(0 364.40000000000003 340.4)" stroke="#000" stroke-width="1.3" fill="#fff"/>
<ellipse cx="364.40000000000003" cy="339.8" rx="2.6" ry="1.3" transform="rotate(0 364.40000000000003 339.8)" stroke="#000" stroke-width="1.0" fill="none"/>
<path d="M359.1,343.4 L362.1,345.4 L366.7,345.4 L369.7,343.4 M362.1,345.4 L362.1,348.6 M366.7,345.4 L366.7,348.6" stroke="#000" stroke-width="1.0" fill="none" />
<path d="M177.90,352.50 L180.30,349.50 L184.10,349.90 L185.50,352.90 L183.10,355.90 L179.30,355.50 Z" stroke="#000" stroke-width="1.0" fill="#fff" />
<path d="M180.3,349.5 L181.3,352.5 L185.5,352.9 M181.3,352.5 L179.3,355.5" stroke="#000" stroke-width="0.8" fill="none" />
<ellipse cx="178.9" cy="357.7" rx="1.8" ry="1.5" transform="rotate(0 178.9 357.7)" stroke="#000" stroke-width="0.9" fill="#fff"/>
<path d="M182.0,349.3 L183.5,347.0" stroke="#000" stroke-width="1.0" fill="none" />
<path d="M360.90,443.50 L363.30,440.50 L367.10,440.90 L368.50,443.90 L366.10,446.90 L362.30,446.50 Z" stroke="#000" stroke-width="1.0" fill="#fff" />
<path d="M363.3,440.5 L364.3,443.5 L368.5,443.9 M364.3,443.5 L362.3,446.5" stroke="#000" stroke-width="0.8" fill="none" />
<ellipse cx="361.9" cy="448.7" rx="1.8" ry="1.5" transform="rotate(0 361.9 448.7)" stroke="#000" stroke-width="0.9" fill="#fff"/>
<path d="M365.0,440.3 L366.5,438.0" stroke="#000" stroke-width="1.0" fill="none" />
<path d="M368.5,431 L366,438" stroke="#000" stroke-width="0.9" fill="none" stroke-dasharray="2 1.5"/>
<path d="M383,215 Q384,209 387,205 Q392.5,199 399,196.5 Q403,195.5 407,196.5 L417,201 Q420,204 420.6,208 L421,214 L420,216 L415.5,214 L414.5,207 L411,215 L410,217 L407.5,216.5 L407,211 Q404.5,210 403,210.5 Q400,212 398,214 Q395.5,217 394,220 L390,220.5 L383,217 Z" stroke="#000" stroke-width="1.3" fill="#fff" />
<path d="M394,220 Q394.5,216 396,214 Q399,208.5 403,205 Q406.5,202.5 410,201.5 Q413.5,200.8 416,201.5 Q419,203.5 420,207" stroke="#000" stroke-width="1.0" fill="none" />
<path d="M391.5,219 Q392.2,215.5 394,213 Q397,208 401,205 Q405,202 409,200.5 Q412.5,199.8 415,200.5" stroke="#000" stroke-width="0.9" fill="none" />
<path d="M411,215 Q412.5,209 414.5,207" stroke="#000" stroke-width="0.8" fill="none" />
<line x1="409.8" y1="205.5" x2="410.2" y2="206.8" stroke="#000" stroke-width="1.2"/>
<g transform="translate(109.8,51.2)">
<path d="M383,215 Q384,209 387,205 Q392.5,199 399,196.5 Q403,195.5 407,196.5 L417,201 Q420,204 420.6,208 L421,214 L420,216 L415.5,214 L414.5,207 L411,215 L410,217 L407.5,216.5 L407,211 Q404.5,210 403,210.5 Q400,212 398,214 Q395.5,217 394,220 L390,220.5 L383,217 Z" stroke="#000" stroke-width="1.3" fill="#fff" />
<path d="M394,220 Q394.5,216 396,214 Q399,208.5 403,205 Q406.5,202.5 410,201.5 Q413.5,200.8 416,201.5 Q419,203.5 420,207" stroke="#000" stroke-width="1.0" fill="none" />
<path d="M391.5,219 Q392.2,215.5 394,213 Q397,208 401,205 Q405,202 409,200.5 Q412.5,199.8 415,200.5" stroke="#000" stroke-width="0.9" fill="none" />
<path d="M411,215 Q412.5,209 414.5,207" stroke="#000" stroke-width="0.8" fill="none" />
<line x1="409.8" y1="205.5" x2="410.2" y2="206.8" stroke="#000" stroke-width="1.2"/>
</g>
<rect x="908" y="8" width="1.4" height="1.4" fill="#000"/>
<rect x="7.5" y="658" width="1.6" height="0.9" fill="#000"/>
</svg></body></html>
